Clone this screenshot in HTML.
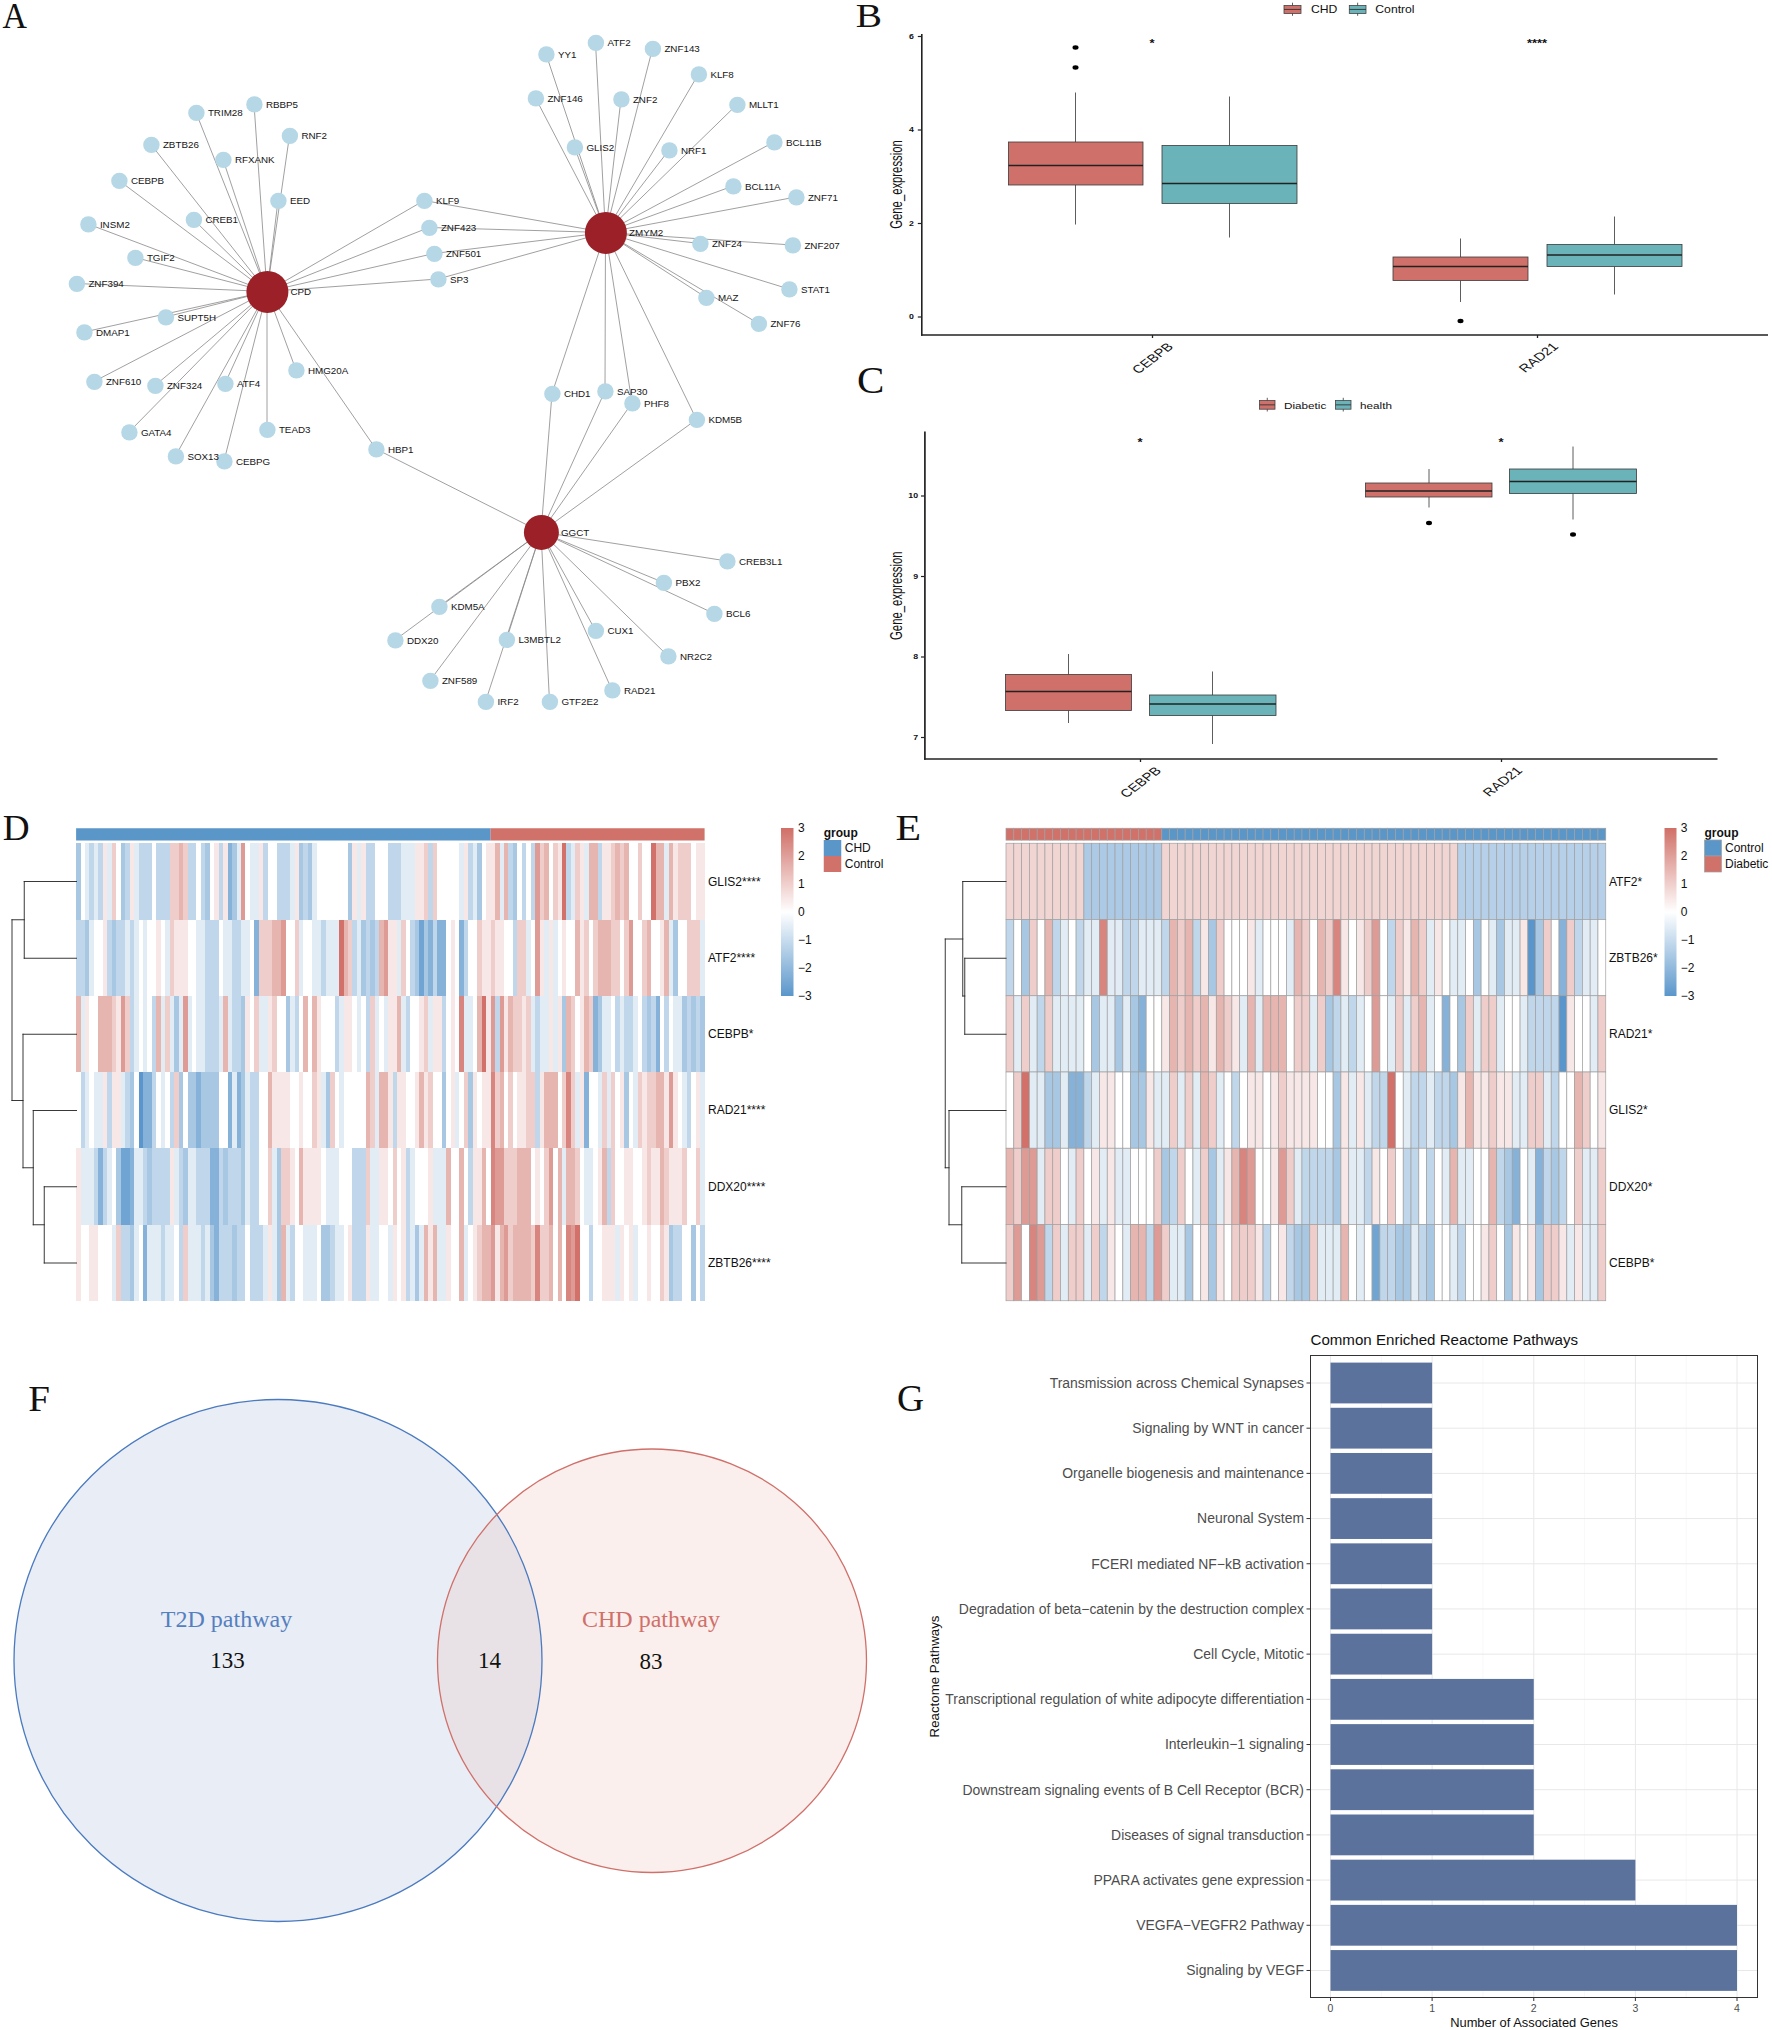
<!DOCTYPE html>
<html lang="en"><head><meta charset="utf-8"><title>Figure</title>
<style>
html,body{margin:0;padding:0;background:#fff}
body{width:1772px;height:2030px;overflow:hidden}
svg{display:block}
.s{font-family:"Liberation Sans",sans-serif}
.r{font-family:"Liberation Serif",serif}
</style></head><body>
<svg width="1772" height="2030" viewBox="0 0 1772 2030">
<rect width="1772" height="2030" fill="#ffffff"/>
<g id="pA">
<g stroke="#888" stroke-width="0.8">
<line x1="267" y1="291.5" x2="196" y2="112.5"/>
<line x1="267" y1="291.5" x2="254" y2="104"/>
<line x1="267" y1="291.5" x2="289.5" y2="135.5"/>
<line x1="267" y1="291.5" x2="151" y2="144.5"/>
<line x1="267" y1="291.5" x2="223" y2="159.5"/>
<line x1="267" y1="291.5" x2="119" y2="180.5"/>
<line x1="267" y1="291.5" x2="278" y2="200.5"/>
<line x1="267" y1="291.5" x2="193.5" y2="219.5"/>
<line x1="267" y1="291.5" x2="88" y2="224"/>
<line x1="267" y1="291.5" x2="135" y2="257.5"/>
<line x1="267" y1="291.5" x2="76.5" y2="283.5"/>
<line x1="267" y1="291.5" x2="165.5" y2="317"/>
<line x1="267" y1="291.5" x2="84" y2="332"/>
<line x1="267" y1="291.5" x2="94" y2="381.5"/>
<line x1="267" y1="291.5" x2="155" y2="385.5"/>
<line x1="267" y1="291.5" x2="225" y2="383.5"/>
<line x1="267" y1="291.5" x2="296" y2="370"/>
<line x1="267" y1="291.5" x2="129" y2="432"/>
<line x1="267" y1="291.5" x2="267" y2="429.5"/>
<line x1="267" y1="291.5" x2="175.5" y2="456"/>
<line x1="267" y1="291.5" x2="224" y2="461"/>
<line x1="267" y1="291.5" x2="376" y2="449"/>
<line x1="541" y1="532" x2="376" y2="449"/>
<line x1="267" y1="291.5" x2="424" y2="200.5"/>
<line x1="605.5" y1="232.5" x2="424" y2="200.5"/>
<line x1="267" y1="291.5" x2="429" y2="227.5"/>
<line x1="605.5" y1="232.5" x2="429" y2="227.5"/>
<line x1="267" y1="291.5" x2="434" y2="253.5"/>
<line x1="605.5" y1="232.5" x2="434" y2="253.5"/>
<line x1="267" y1="291.5" x2="438" y2="279"/>
<line x1="605.5" y1="232.5" x2="438" y2="279"/>
<line x1="605.5" y1="232.5" x2="546" y2="54"/>
<line x1="605.5" y1="232.5" x2="595.5" y2="42.5"/>
<line x1="605.5" y1="232.5" x2="652.5" y2="48.5"/>
<line x1="605.5" y1="232.5" x2="698.5" y2="74"/>
<line x1="605.5" y1="232.5" x2="535.5" y2="98"/>
<line x1="605.5" y1="232.5" x2="621" y2="99"/>
<line x1="605.5" y1="232.5" x2="737" y2="104.5"/>
<line x1="605.5" y1="232.5" x2="574.5" y2="147"/>
<line x1="605.5" y1="232.5" x2="669" y2="150"/>
<line x1="605.5" y1="232.5" x2="774" y2="142"/>
<line x1="605.5" y1="232.5" x2="733" y2="186"/>
<line x1="605.5" y1="232.5" x2="796" y2="197"/>
<line x1="605.5" y1="232.5" x2="700" y2="243.5"/>
<line x1="605.5" y1="232.5" x2="792.5" y2="245"/>
<line x1="605.5" y1="232.5" x2="789" y2="289"/>
<line x1="605.5" y1="232.5" x2="706" y2="297.5"/>
<line x1="605.5" y1="232.5" x2="758.5" y2="323.5"/>
<line x1="605.5" y1="232.5" x2="552" y2="393.5"/>
<line x1="541" y1="532" x2="552" y2="393.5"/>
<line x1="605.5" y1="232.5" x2="605" y2="391"/>
<line x1="541" y1="532" x2="605" y2="391"/>
<line x1="605.5" y1="232.5" x2="632" y2="403"/>
<line x1="541" y1="532" x2="632" y2="403"/>
<line x1="605.5" y1="232.5" x2="696.5" y2="419.5"/>
<line x1="541" y1="532" x2="696.5" y2="419.5"/>
<line x1="541" y1="532" x2="727" y2="561"/>
<line x1="541" y1="532" x2="663.5" y2="582.5"/>
<line x1="541" y1="532" x2="714" y2="613.5"/>
<line x1="541" y1="532" x2="439" y2="606.5"/>
<line x1="541" y1="532" x2="595.5" y2="630.5"/>
<line x1="541" y1="532" x2="395" y2="640"/>
<line x1="541" y1="532" x2="506.5" y2="639.5"/>
<line x1="541" y1="532" x2="668" y2="656"/>
<line x1="541" y1="532" x2="430" y2="680.5"/>
<line x1="541" y1="532" x2="485.5" y2="701.5"/>
<line x1="541" y1="532" x2="549.5" y2="701.5"/>
<line x1="541" y1="532" x2="612" y2="690"/>
</g>
<g fill="#b5d7e6">
<circle cx="196.4" cy="112.9" r="8.2"/>
<circle cx="254.4" cy="104.4" r="8.2"/>
<circle cx="289.9" cy="135.9" r="8.2"/>
<circle cx="151.4" cy="144.9" r="8.2"/>
<circle cx="223.4" cy="159.9" r="8.2"/>
<circle cx="119.4" cy="180.9" r="8.2"/>
<circle cx="278.4" cy="200.9" r="8.2"/>
<circle cx="193.9" cy="219.9" r="8.2"/>
<circle cx="88.4" cy="224.4" r="8.2"/>
<circle cx="135.4" cy="257.9" r="8.2"/>
<circle cx="76.9" cy="283.9" r="8.2"/>
<circle cx="165.9" cy="317.4" r="8.2"/>
<circle cx="84.4" cy="332.4" r="8.2"/>
<circle cx="94.4" cy="381.9" r="8.2"/>
<circle cx="155.4" cy="385.9" r="8.2"/>
<circle cx="225.4" cy="383.9" r="8.2"/>
<circle cx="296.4" cy="370.4" r="8.2"/>
<circle cx="129.4" cy="432.4" r="8.2"/>
<circle cx="267.4" cy="429.9" r="8.2"/>
<circle cx="175.9" cy="456.4" r="8.2"/>
<circle cx="224.4" cy="461.4" r="8.2"/>
<circle cx="376.4" cy="449.4" r="8.2"/>
<circle cx="424.4" cy="200.9" r="8.2"/>
<circle cx="429.4" cy="227.9" r="8.2"/>
<circle cx="434.4" cy="253.9" r="8.2"/>
<circle cx="438.4" cy="279.4" r="8.2"/>
<circle cx="546.4" cy="54.4" r="8.2"/>
<circle cx="595.9" cy="42.9" r="8.2"/>
<circle cx="652.9" cy="48.9" r="8.2"/>
<circle cx="698.9" cy="74.4" r="8.2"/>
<circle cx="535.9" cy="98.4" r="8.2"/>
<circle cx="621.4" cy="99.4" r="8.2"/>
<circle cx="737.4" cy="104.9" r="8.2"/>
<circle cx="574.9" cy="147.4" r="8.2"/>
<circle cx="669.4" cy="150.4" r="8.2"/>
<circle cx="774.4" cy="142.4" r="8.2"/>
<circle cx="733.4" cy="186.4" r="8.2"/>
<circle cx="796.4" cy="197.4" r="8.2"/>
<circle cx="700.4" cy="243.9" r="8.2"/>
<circle cx="792.9" cy="245.4" r="8.2"/>
<circle cx="789.4" cy="289.4" r="8.2"/>
<circle cx="706.4" cy="297.9" r="8.2"/>
<circle cx="758.9" cy="323.9" r="8.2"/>
<circle cx="552.4" cy="393.9" r="8.2"/>
<circle cx="605.4" cy="391.4" r="8.2"/>
<circle cx="632.4" cy="403.4" r="8.2"/>
<circle cx="696.9" cy="419.9" r="8.2"/>
<circle cx="727.4" cy="561.4" r="8.2"/>
<circle cx="663.9" cy="582.9" r="8.2"/>
<circle cx="714.4" cy="613.9" r="8.2"/>
<circle cx="439.4" cy="606.9" r="8.2"/>
<circle cx="595.9" cy="630.9" r="8.2"/>
<circle cx="395.4" cy="640.4" r="8.2"/>
<circle cx="506.9" cy="639.9" r="8.2"/>
<circle cx="668.4" cy="656.4" r="8.2"/>
<circle cx="430.4" cy="680.9" r="8.2"/>
<circle cx="485.9" cy="701.9" r="8.2"/>
<circle cx="549.9" cy="701.9" r="8.2"/>
<circle cx="612.4" cy="690.4" r="8.2"/>
</g>
<g fill="#9b2027">
<circle cx="267.4" cy="291.9" r="21"/>
<circle cx="605.9" cy="232.9" r="21"/>
<circle cx="541.4" cy="532.4" r="17.5"/>
</g>
<g class="s" font-size="9.8" fill="#151515">
<text x="207.9" y="116.3">TRIM28</text>
<text x="265.9" y="107.8">RBBP5</text>
<text x="301.4" y="139.3">RNF2</text>
<text x="162.9" y="148.3">ZBTB26</text>
<text x="234.9" y="163.3">RFXANK</text>
<text x="130.9" y="184.3">CEBPB</text>
<text x="289.9" y="204.3">EED</text>
<text x="205.4" y="223.3">CREB1</text>
<text x="99.9" y="227.8">INSM2</text>
<text x="146.9" y="261.3">TGIF2</text>
<text x="88.4" y="287.3">ZNF394</text>
<text x="177.4" y="320.8">SUPT5H</text>
<text x="95.9" y="335.8">DMAP1</text>
<text x="105.9" y="385.3">ZNF610</text>
<text x="166.9" y="389.3">ZNF324</text>
<text x="236.9" y="387.3">ATF4</text>
<text x="307.9" y="373.8">HMG20A</text>
<text x="140.9" y="435.8">GATA4</text>
<text x="278.9" y="433.3">TEAD3</text>
<text x="187.4" y="459.8">SOX13</text>
<text x="235.9" y="464.8">CEBPG</text>
<text x="387.9" y="452.8">HBP1</text>
<text x="435.9" y="204.3">KLF9</text>
<text x="440.9" y="231.3">ZNF423</text>
<text x="445.9" y="257.3">ZNF501</text>
<text x="449.9" y="282.8">SP3</text>
<text x="557.9" y="57.8">YY1</text>
<text x="607.4" y="46.3">ATF2</text>
<text x="664.4" y="52.3">ZNF143</text>
<text x="710.4" y="77.8">KLF8</text>
<text x="547.4" y="101.8">ZNF146</text>
<text x="632.9" y="102.8">ZNF2</text>
<text x="748.9" y="108.3">MLLT1</text>
<text x="586.4" y="150.8">GLIS2</text>
<text x="680.9" y="153.8">NRF1</text>
<text x="785.9" y="145.8">BCL11B</text>
<text x="744.9" y="189.8">BCL11A</text>
<text x="807.9" y="200.8">ZNF71</text>
<text x="711.9" y="247.3">ZNF24</text>
<text x="804.4" y="248.8">ZNF207</text>
<text x="800.9" y="292.8">STAT1</text>
<text x="717.9" y="301.3">MAZ</text>
<text x="770.4" y="327.3">ZNF76</text>
<text x="563.9" y="397.3">CHD1</text>
<text x="616.9" y="394.8">SAP30</text>
<text x="643.9" y="406.8">PHF8</text>
<text x="708.4" y="423.3">KDM5B</text>
<text x="738.9" y="564.8">CREB3L1</text>
<text x="675.4" y="586.3">PBX2</text>
<text x="725.9" y="617.3">BCL6</text>
<text x="450.9" y="610.3">KDM5A</text>
<text x="607.4" y="634.3">CUX1</text>
<text x="406.9" y="643.8">DDX20</text>
<text x="518.4" y="643.3">L3MBTL2</text>
<text x="679.9" y="659.8">NR2C2</text>
<text x="441.9" y="684.3">ZNF589</text>
<text x="497.4" y="705.3">IRF2</text>
<text x="561.4" y="705.3">GTF2E2</text>
<text x="623.9" y="693.8">RAD21</text>
<text x="290.5" y="295.1">CPD</text>
<text x="629" y="236.1">ZMYM2</text>
<text x="561" y="535.6">GGCT</text>
</g>
</g>
<g id="pB">
<line x1="921.8" y1="34" x2="921.8" y2="335.8" stroke="#222" stroke-width="1.6"/>
<line x1="921" y1="335" x2="1768" y2="335" stroke="#222" stroke-width="1.6"/>
<line x1="917.8" y1="36.5" x2="921" y2="36.5" stroke="#222" stroke-width="1.2"/>
<text class="s" font-size="6.5" text-anchor="end" font-weight="bold" fill="#111" transform="translate(914,38.8) scale(1.35,1)">6</text>
<line x1="917.8" y1="130" x2="921" y2="130" stroke="#222" stroke-width="1.2"/>
<text class="s" font-size="6.5" text-anchor="end" font-weight="bold" fill="#111" transform="translate(914,132.3) scale(1.35,1)">4</text>
<line x1="917.8" y1="223.5" x2="921" y2="223.5" stroke="#222" stroke-width="1.2"/>
<text class="s" font-size="6.5" text-anchor="end" font-weight="bold" fill="#111" transform="translate(914,225.8) scale(1.35,1)">2</text>
<line x1="917.8" y1="317" x2="921" y2="317" stroke="#222" stroke-width="1.2"/>
<text class="s" font-size="6.5" text-anchor="end" font-weight="bold" fill="#111" transform="translate(914,319.3) scale(1.35,1)">0</text>
<line x1="1152.5" y1="335" x2="1152.5" y2="338" stroke="#222" stroke-width="1.3"/>
<line x1="1537.5" y1="335" x2="1537.5" y2="338" stroke="#222" stroke-width="1.3"/>
<line x1="1075.5" y1="92.5" x2="1075.5" y2="142" stroke="#333" stroke-width="0.8"/>
<line x1="1075.5" y1="185" x2="1075.5" y2="224.5" stroke="#333" stroke-width="0.8"/>
<rect x="1008.5" y="142" width="134.5" height="43" fill="#d0706a" stroke="#3a3a3a" stroke-width="0.8"/>
<line x1="1008.5" y1="165.5" x2="1143" y2="165.5" stroke="#222" stroke-width="1.3"/>
<ellipse cx="1075.5" cy="47.5" rx="3" ry="2.2" fill="#000"/>
<ellipse cx="1075.5" cy="67.5" rx="3" ry="2.2" fill="#000"/>
<line x1="1229.5" y1="96.5" x2="1229.5" y2="145.5" stroke="#333" stroke-width="0.8"/>
<line x1="1229.5" y1="203.5" x2="1229.5" y2="237.5" stroke="#333" stroke-width="0.8"/>
<rect x="1162" y="145.5" width="135" height="58" fill="#6ab3b8" stroke="#3a3a3a" stroke-width="0.8"/>
<line x1="1162" y1="183.5" x2="1297" y2="183.5" stroke="#222" stroke-width="1.3"/>
<line x1="1460.5" y1="238.5" x2="1460.5" y2="257" stroke="#333" stroke-width="0.8"/>
<line x1="1460.5" y1="280.5" x2="1460.5" y2="302" stroke="#333" stroke-width="0.8"/>
<rect x="1393" y="257" width="135" height="23.5" fill="#d0706a" stroke="#3a3a3a" stroke-width="0.8"/>
<line x1="1393" y1="266.5" x2="1528" y2="266.5" stroke="#222" stroke-width="1.3"/>
<ellipse cx="1460.5" cy="321" rx="3" ry="2.2" fill="#000"/>
<line x1="1614.5" y1="216.5" x2="1614.5" y2="244.5" stroke="#333" stroke-width="0.8"/>
<line x1="1614.5" y1="266.5" x2="1614.5" y2="294.5" stroke="#333" stroke-width="0.8"/>
<rect x="1547" y="244.5" width="135" height="22" fill="#6ab3b8" stroke="#3a3a3a" stroke-width="0.8"/>
<line x1="1547" y1="255" x2="1682" y2="255" stroke="#222" stroke-width="1.3"/>
<text class="s" font-size="10" text-anchor="middle" font-weight="bold" fill="#111" transform="translate(1152,47.4) scale(1.3,1)">*</text>
<text class="s" font-size="10" text-anchor="middle" font-weight="bold" fill="#111" transform="translate(1537,47.4) scale(1.3,1)">****</text>
<text class="s" font-size="11.3" fill="#111" text-anchor="middle" transform="translate(902.4,184.5) rotate(-90) scale(1,1.42)">Gene_expression</text>
<text class="s" font-size="11.3" fill="#111" text-anchor="end" transform="translate(1174,347.4) scale(1.32,1) rotate(-45)">CEBPB</text>
<text class="s" font-size="11.3" fill="#111" text-anchor="end" transform="translate(1559,347.4) scale(1.32,1) rotate(-45)">RAD21</text>
<line x1="1292.5" y1="2.7" x2="1292.5" y2="15.8" stroke="#333" stroke-width="0.8"/>
<rect x="1284" y="5.4" width="17" height="8.1" fill="#d0706a" stroke="#444" stroke-width="0.8"/>
<line x1="1284" y1="9.45" x2="1301" y2="9.45" stroke="#333" stroke-width="0.9"/>
<text class="s" font-size="10" fill="#111" transform="translate(1311,13.1) scale(1.22,1.0)">CHD</text>
<line x1="1357.65" y1="2.7" x2="1357.65" y2="15.8" stroke="#333" stroke-width="0.8"/>
<rect x="1349.3" y="5.4" width="16.7" height="8.1" fill="#6ab3b8" stroke="#444" stroke-width="0.8"/>
<line x1="1349.3" y1="9.45" x2="1366" y2="9.45" stroke="#333" stroke-width="0.9"/>
<text class="s" font-size="10" fill="#111" transform="translate(1375.3,13.1) scale(1.22,1.0)">Control</text>
</g>
<g id="pC">
<line x1="924.9" y1="431.5" x2="924.9" y2="759.8" stroke="#222" stroke-width="1.7"/>
<line x1="924.1" y1="759" x2="1717.5" y2="759" stroke="#222" stroke-width="1.7"/>
<line x1="921" y1="496" x2="924.2" y2="496" stroke="#222" stroke-width="1.2"/>
<text class="s" font-size="6.5" text-anchor="end" font-weight="bold" fill="#111" transform="translate(918.1,498.3) scale(1.35,1)">10</text>
<line x1="921" y1="576.5" x2="924.2" y2="576.5" stroke="#222" stroke-width="1.2"/>
<text class="s" font-size="6.5" text-anchor="end" font-weight="bold" fill="#111" transform="translate(918.1,578.8) scale(1.35,1)">9</text>
<line x1="921" y1="657" x2="924.2" y2="657" stroke="#222" stroke-width="1.2"/>
<text class="s" font-size="6.5" text-anchor="end" font-weight="bold" fill="#111" transform="translate(918.1,659.3) scale(1.35,1)">8</text>
<line x1="921" y1="737.5" x2="924.2" y2="737.5" stroke="#222" stroke-width="1.2"/>
<text class="s" font-size="6.5" text-anchor="end" font-weight="bold" fill="#111" transform="translate(918.1,739.8) scale(1.35,1)">7</text>
<line x1="1140.5" y1="759" x2="1140.5" y2="762" stroke="#222" stroke-width="1.3"/>
<line x1="1501.5" y1="759" x2="1501.5" y2="762" stroke="#222" stroke-width="1.3"/>
<line x1="1068.5" y1="654" x2="1068.5" y2="674.5" stroke="#333" stroke-width="0.8"/>
<line x1="1068.5" y1="710.5" x2="1068.5" y2="723" stroke="#333" stroke-width="0.8"/>
<rect x="1005.5" y="674.5" width="126" height="36" fill="#d0706a" stroke="#3a3a3a" stroke-width="0.8"/>
<line x1="1005.5" y1="691.5" x2="1131.5" y2="691.5" stroke="#222" stroke-width="1.3"/>
<line x1="1212.5" y1="671.5" x2="1212.5" y2="695" stroke="#333" stroke-width="0.8"/>
<line x1="1212.5" y1="715.5" x2="1212.5" y2="744" stroke="#333" stroke-width="0.8"/>
<rect x="1149.5" y="695" width="126.5" height="20.5" fill="#6ab3b8" stroke="#3a3a3a" stroke-width="0.8"/>
<line x1="1149.5" y1="704" x2="1276" y2="704" stroke="#222" stroke-width="1.3"/>
<line x1="1429" y1="469" x2="1429" y2="483" stroke="#333" stroke-width="0.8"/>
<line x1="1429" y1="497" x2="1429" y2="507.5" stroke="#333" stroke-width="0.8"/>
<rect x="1365.5" y="483" width="126.5" height="14" fill="#d0706a" stroke="#3a3a3a" stroke-width="0.8"/>
<line x1="1365.5" y1="491" x2="1492" y2="491" stroke="#222" stroke-width="1.3"/>
<ellipse cx="1429" cy="523" rx="3" ry="2.2" fill="#000"/>
<line x1="1573" y1="446.5" x2="1573" y2="469" stroke="#333" stroke-width="0.8"/>
<line x1="1573" y1="493.5" x2="1573" y2="519.5" stroke="#333" stroke-width="0.8"/>
<rect x="1509.5" y="469" width="127" height="24.5" fill="#6ab3b8" stroke="#3a3a3a" stroke-width="0.8"/>
<line x1="1509.5" y1="481.5" x2="1636.5" y2="481.5" stroke="#222" stroke-width="1.3"/>
<ellipse cx="1573" cy="534.5" rx="3" ry="2.2" fill="#000"/>
<text class="s" font-size="10" text-anchor="middle" font-weight="bold" fill="#111" transform="translate(1140,445.9) scale(1.3,1)">*</text>
<text class="s" font-size="10" text-anchor="middle" font-weight="bold" fill="#111" transform="translate(1501,445.9) scale(1.3,1)">*</text>
<text class="s" font-size="11.3" fill="#111" text-anchor="middle" transform="translate(901.8,595.7) rotate(-90) scale(1,1.42)">Gene_expression</text>
<text class="s" font-size="11.3" fill="#111" text-anchor="end" transform="translate(1162,771.4) scale(1.32,1) rotate(-45)">CEBPB</text>
<text class="s" font-size="11.3" fill="#111" text-anchor="end" transform="translate(1523,771.4) scale(1.32,1) rotate(-45)">RAD21</text>
<line x1="1267.25" y1="397.8" x2="1267.25" y2="411.5" stroke="#333" stroke-width="0.8"/>
<rect x="1259.5" y="400.5" width="15.5" height="8.7" fill="#d0706a" stroke="#444" stroke-width="0.8"/>
<line x1="1259.5" y1="404.85" x2="1275" y2="404.85" stroke="#333" stroke-width="0.9"/>
<text class="s" font-size="9.7" fill="#111" transform="translate(1284,408.8) scale(1.21,1.0)">Diabetic</text>
<line x1="1343.25" y1="397.8" x2="1343.25" y2="411.5" stroke="#333" stroke-width="0.8"/>
<rect x="1335.5" y="400.5" width="15.5" height="8.7" fill="#6ab3b8" stroke="#444" stroke-width="0.8"/>
<line x1="1335.5" y1="404.85" x2="1351" y2="404.85" stroke="#333" stroke-width="0.9"/>
<text class="s" font-size="9.7" fill="#111" transform="translate(1360,408.8) scale(1.21,1.0)">health</text>
</g>
<g id="pD">
<rect x="76.1" y="828.25" width="414.5" height="12.25" fill="#5b96c9"/>
<rect x="490.6" y="828.25" width="214" height="12.25" fill="#d0716a"/>
<g shape-rendering="crispEdges">
<rect x="76.1" y="843.25" width="4.76" height="76.45" fill="#a7c7e3"/>
<rect x="80.56" y="843.25" width="4.76" height="76.45" fill="#ffffff"/>
<rect x="85.01" y="843.25" width="4.76" height="76.45" fill="#e1ecf5"/>
<rect x="89.47" y="843.25" width="4.76" height="76.45" fill="#c0d7eb"/>
<rect x="93.93" y="843.25" width="4.76" height="76.45" fill="#e1ecf5"/>
<rect x="98.39" y="843.25" width="4.76" height="76.45" fill="#c0d7eb"/>
<rect x="102.84" y="843.25" width="4.76" height="76.45" fill="#f7e7e6"/>
<rect x="107.3" y="843.25" width="4.76" height="76.45" fill="#e1ecf5"/>
<rect x="111.76" y="843.25" width="4.76" height="76.45" fill="#efcdca"/>
<rect x="116.22" y="843.25" width="4.76" height="76.45" fill="#ffffff"/>
<rect x="120.67" y="843.25" width="4.76" height="76.45" fill="#a7c7e3"/>
<rect x="125.13" y="843.25" width="4.76" height="76.45" fill="#c0d7eb"/>
<rect x="129.59" y="843.25" width="4.76" height="76.45" fill="#f7e7e6"/>
<rect x="134.05" y="843.25" width="4.76" height="76.45" fill="#e1ecf5"/>
<rect x="138.5" y="843.25" width="4.76" height="76.45" fill="#c0d7eb"/>
<rect x="142.96" y="843.25" width="4.76" height="76.45" fill="#c0d7eb"/>
<rect x="147.42" y="843.25" width="4.76" height="76.45" fill="#c0d7eb"/>
<rect x="151.88" y="843.25" width="4.76" height="76.45" fill="#ffffff"/>
<rect x="156.33" y="843.25" width="4.76" height="76.45" fill="#c0d7eb"/>
<rect x="160.79" y="843.25" width="4.76" height="76.45" fill="#c0d7eb"/>
<rect x="165.25" y="843.25" width="4.76" height="76.45" fill="#c0d7eb"/>
<rect x="169.71" y="843.25" width="4.76" height="76.45" fill="#efcdca"/>
<rect x="174.16" y="843.25" width="4.76" height="76.45" fill="#efcdca"/>
<rect x="178.62" y="843.25" width="4.76" height="76.45" fill="#e7b5b0"/>
<rect x="183.08" y="843.25" width="4.76" height="76.45" fill="#efcdca"/>
<rect x="187.54" y="843.25" width="4.76" height="76.45" fill="#c0d7eb"/>
<rect x="191.99" y="843.25" width="4.76" height="76.45" fill="#c0d7eb"/>
<rect x="196.45" y="843.25" width="4.76" height="76.45" fill="#ffffff"/>
<rect x="200.91" y="843.25" width="4.76" height="76.45" fill="#c0d7eb"/>
<rect x="205.37" y="843.25" width="4.76" height="76.45" fill="#a7c7e3"/>
<rect x="209.82" y="843.25" width="4.76" height="76.45" fill="#ffffff"/>
<rect x="214.28" y="843.25" width="4.76" height="76.45" fill="#f7e7e6"/>
<rect x="218.74" y="843.25" width="4.76" height="76.45" fill="#c0d7eb"/>
<rect x="223.2" y="843.25" width="4.76" height="76.45" fill="#f7e7e6"/>
<rect x="227.65" y="843.25" width="4.76" height="76.45" fill="#86b2d9"/>
<rect x="232.11" y="843.25" width="4.76" height="76.45" fill="#a7c7e3"/>
<rect x="236.57" y="843.25" width="4.76" height="76.45" fill="#e1ecf5"/>
<rect x="241.03" y="843.25" width="4.76" height="76.45" fill="#de9a95"/>
<rect x="245.48" y="843.25" width="4.76" height="76.45" fill="#ffffff"/>
<rect x="249.94" y="843.25" width="4.76" height="76.45" fill="#e1ecf5"/>
<rect x="254.4" y="843.25" width="4.76" height="76.45" fill="#e1ecf5"/>
<rect x="258.86" y="843.25" width="4.76" height="76.45" fill="#f7e7e6"/>
<rect x="263.31" y="843.25" width="4.76" height="76.45" fill="#c0d7eb"/>
<rect x="267.77" y="843.25" width="4.76" height="76.45" fill="#ffffff"/>
<rect x="272.23" y="843.25" width="4.76" height="76.45" fill="#ffffff"/>
<rect x="276.69" y="843.25" width="4.76" height="76.45" fill="#c0d7eb"/>
<rect x="281.14" y="843.25" width="4.76" height="76.45" fill="#c0d7eb"/>
<rect x="285.6" y="843.25" width="4.76" height="76.45" fill="#c0d7eb"/>
<rect x="290.06" y="843.25" width="4.76" height="76.45" fill="#e1ecf5"/>
<rect x="294.51" y="843.25" width="4.76" height="76.45" fill="#f7e7e6"/>
<rect x="298.97" y="843.25" width="4.76" height="76.45" fill="#a7c7e3"/>
<rect x="303.43" y="843.25" width="4.76" height="76.45" fill="#c0d7eb"/>
<rect x="307.89" y="843.25" width="4.76" height="76.45" fill="#a7c7e3"/>
<rect x="312.34" y="843.25" width="4.76" height="76.45" fill="#e1ecf5"/>
<rect x="316.8" y="843.25" width="4.76" height="76.45" fill="#ffffff"/>
<rect x="321.26" y="843.25" width="4.76" height="76.45" fill="#ffffff"/>
<rect x="325.72" y="843.25" width="4.76" height="76.45" fill="#ffffff"/>
<rect x="330.17" y="843.25" width="4.76" height="76.45" fill="#ffffff"/>
<rect x="334.63" y="843.25" width="4.76" height="76.45" fill="#ffffff"/>
<rect x="339.09" y="843.25" width="4.76" height="76.45" fill="#ffffff"/>
<rect x="343.55" y="843.25" width="4.76" height="76.45" fill="#ffffff"/>
<rect x="348" y="843.25" width="4.76" height="76.45" fill="#a7c7e3"/>
<rect x="352.46" y="843.25" width="4.76" height="76.45" fill="#f7e7e6"/>
<rect x="356.92" y="843.25" width="4.76" height="76.45" fill="#e1ecf5"/>
<rect x="361.38" y="843.25" width="4.76" height="76.45" fill="#f7e7e6"/>
<rect x="365.83" y="843.25" width="4.76" height="76.45" fill="#c0d7eb"/>
<rect x="370.29" y="843.25" width="4.76" height="76.45" fill="#c0d7eb"/>
<rect x="374.75" y="843.25" width="4.76" height="76.45" fill="#ffffff"/>
<rect x="379.21" y="843.25" width="4.76" height="76.45" fill="#ffffff"/>
<rect x="383.66" y="843.25" width="4.76" height="76.45" fill="#ffffff"/>
<rect x="388.12" y="843.25" width="4.76" height="76.45" fill="#c0d7eb"/>
<rect x="392.58" y="843.25" width="4.76" height="76.45" fill="#c0d7eb"/>
<rect x="397.04" y="843.25" width="4.76" height="76.45" fill="#c0d7eb"/>
<rect x="401.49" y="843.25" width="4.76" height="76.45" fill="#e1ecf5"/>
<rect x="405.95" y="843.25" width="4.76" height="76.45" fill="#e1ecf5"/>
<rect x="410.41" y="843.25" width="4.76" height="76.45" fill="#e1ecf5"/>
<rect x="414.87" y="843.25" width="4.76" height="76.45" fill="#f7e7e6"/>
<rect x="419.32" y="843.25" width="4.76" height="76.45" fill="#f7e7e6"/>
<rect x="423.78" y="843.25" width="4.76" height="76.45" fill="#efcdca"/>
<rect x="428.24" y="843.25" width="4.76" height="76.45" fill="#c0d7eb"/>
<rect x="432.7" y="843.25" width="4.76" height="76.45" fill="#efcdca"/>
<rect x="437.15" y="843.25" width="4.76" height="76.45" fill="#ffffff"/>
<rect x="441.61" y="843.25" width="4.76" height="76.45" fill="#ffffff"/>
<rect x="446.07" y="843.25" width="4.76" height="76.45" fill="#ffffff"/>
<rect x="450.53" y="843.25" width="4.76" height="76.45" fill="#ffffff"/>
<rect x="454.98" y="843.25" width="4.76" height="76.45" fill="#ffffff"/>
<rect x="459.44" y="843.25" width="4.76" height="76.45" fill="#e1ecf5"/>
<rect x="463.9" y="843.25" width="4.76" height="76.45" fill="#f7e7e6"/>
<rect x="468.36" y="843.25" width="4.76" height="76.45" fill="#c0d7eb"/>
<rect x="472.81" y="843.25" width="4.76" height="76.45" fill="#e1ecf5"/>
<rect x="477.27" y="843.25" width="4.76" height="76.45" fill="#a7c7e3"/>
<rect x="481.73" y="843.25" width="4.76" height="76.45" fill="#ffffff"/>
<rect x="486.19" y="843.25" width="4.76" height="76.45" fill="#f7e7e6"/>
<rect x="490.64" y="843.25" width="4.76" height="76.45" fill="#f7e7e6"/>
<rect x="495.1" y="843.25" width="4.76" height="76.45" fill="#e7b5b0"/>
<rect x="499.56" y="843.25" width="4.76" height="76.45" fill="#e1ecf5"/>
<rect x="504.01" y="843.25" width="4.76" height="76.45" fill="#e7b5b0"/>
<rect x="508.47" y="843.25" width="4.76" height="76.45" fill="#c0d7eb"/>
<rect x="512.93" y="843.25" width="4.76" height="76.45" fill="#a7c7e3"/>
<rect x="517.39" y="843.25" width="4.76" height="76.45" fill="#ffffff"/>
<rect x="521.84" y="843.25" width="4.76" height="76.45" fill="#c0d7eb"/>
<rect x="526.3" y="843.25" width="4.76" height="76.45" fill="#ffffff"/>
<rect x="530.76" y="843.25" width="4.76" height="76.45" fill="#c0d7eb"/>
<rect x="535.22" y="843.25" width="4.76" height="76.45" fill="#de9a95"/>
<rect x="539.67" y="843.25" width="4.76" height="76.45" fill="#efcdca"/>
<rect x="544.13" y="843.25" width="4.76" height="76.45" fill="#e7b5b0"/>
<rect x="548.59" y="843.25" width="4.76" height="76.45" fill="#ffffff"/>
<rect x="553.05" y="843.25" width="4.76" height="76.45" fill="#efcdca"/>
<rect x="557.5" y="843.25" width="4.76" height="76.45" fill="#f7e7e6"/>
<rect x="561.96" y="843.25" width="4.76" height="76.45" fill="#d1716a"/>
<rect x="566.42" y="843.25" width="4.76" height="76.45" fill="#c0d7eb"/>
<rect x="570.88" y="843.25" width="4.76" height="76.45" fill="#e1ecf5"/>
<rect x="575.33" y="843.25" width="4.76" height="76.45" fill="#efcdca"/>
<rect x="579.79" y="843.25" width="4.76" height="76.45" fill="#f7e7e6"/>
<rect x="584.25" y="843.25" width="4.76" height="76.45" fill="#e1ecf5"/>
<rect x="588.71" y="843.25" width="4.76" height="76.45" fill="#e7b5b0"/>
<rect x="593.16" y="843.25" width="4.76" height="76.45" fill="#e7b5b0"/>
<rect x="597.62" y="843.25" width="4.76" height="76.45" fill="#c0d7eb"/>
<rect x="602.08" y="843.25" width="4.76" height="76.45" fill="#f7e7e6"/>
<rect x="606.54" y="843.25" width="4.76" height="76.45" fill="#f7e7e6"/>
<rect x="610.99" y="843.25" width="4.76" height="76.45" fill="#efcdca"/>
<rect x="615.45" y="843.25" width="4.76" height="76.45" fill="#e7b5b0"/>
<rect x="619.91" y="843.25" width="4.76" height="76.45" fill="#efcdca"/>
<rect x="624.37" y="843.25" width="4.76" height="76.45" fill="#e7b5b0"/>
<rect x="628.82" y="843.25" width="4.76" height="76.45" fill="#ffffff"/>
<rect x="633.28" y="843.25" width="4.76" height="76.45" fill="#ffffff"/>
<rect x="637.74" y="843.25" width="4.76" height="76.45" fill="#efcdca"/>
<rect x="642.2" y="843.25" width="4.76" height="76.45" fill="#ffffff"/>
<rect x="646.65" y="843.25" width="4.76" height="76.45" fill="#ffffff"/>
<rect x="651.11" y="843.25" width="4.76" height="76.45" fill="#d1716a"/>
<rect x="655.57" y="843.25" width="4.76" height="76.45" fill="#e7b5b0"/>
<rect x="660.03" y="843.25" width="4.76" height="76.45" fill="#e7b5b0"/>
<rect x="664.48" y="843.25" width="4.76" height="76.45" fill="#e1ecf5"/>
<rect x="668.94" y="843.25" width="4.76" height="76.45" fill="#e7b5b0"/>
<rect x="673.4" y="843.25" width="4.76" height="76.45" fill="#f7e7e6"/>
<rect x="677.86" y="843.25" width="4.76" height="76.45" fill="#efcdca"/>
<rect x="682.31" y="843.25" width="4.76" height="76.45" fill="#efcdca"/>
<rect x="686.77" y="843.25" width="4.76" height="76.45" fill="#efcdca"/>
<rect x="691.23" y="843.25" width="4.76" height="76.45" fill="#ffffff"/>
<rect x="695.69" y="843.25" width="4.76" height="76.45" fill="#f7e7e6"/>
<rect x="700.14" y="843.25" width="4.76" height="76.45" fill="#f7e7e6"/>
<rect x="76.1" y="919.5" width="4.76" height="76.45" fill="#c0d7eb"/>
<rect x="80.56" y="919.5" width="4.76" height="76.45" fill="#c0d7eb"/>
<rect x="85.01" y="919.5" width="4.76" height="76.45" fill="#a7c7e3"/>
<rect x="89.47" y="919.5" width="4.76" height="76.45" fill="#e1ecf5"/>
<rect x="93.93" y="919.5" width="4.76" height="76.45" fill="#ffffff"/>
<rect x="98.39" y="919.5" width="4.76" height="76.45" fill="#ffffff"/>
<rect x="102.84" y="919.5" width="4.76" height="76.45" fill="#f7e7e6"/>
<rect x="107.3" y="919.5" width="4.76" height="76.45" fill="#c0d7eb"/>
<rect x="111.76" y="919.5" width="4.76" height="76.45" fill="#a7c7e3"/>
<rect x="116.22" y="919.5" width="4.76" height="76.45" fill="#c0d7eb"/>
<rect x="120.67" y="919.5" width="4.76" height="76.45" fill="#c0d7eb"/>
<rect x="125.13" y="919.5" width="4.76" height="76.45" fill="#e1ecf5"/>
<rect x="129.59" y="919.5" width="4.76" height="76.45" fill="#c0d7eb"/>
<rect x="134.05" y="919.5" width="4.76" height="76.45" fill="#e1ecf5"/>
<rect x="138.5" y="919.5" width="4.76" height="76.45" fill="#ffffff"/>
<rect x="142.96" y="919.5" width="4.76" height="76.45" fill="#e1ecf5"/>
<rect x="147.42" y="919.5" width="4.76" height="76.45" fill="#ffffff"/>
<rect x="151.88" y="919.5" width="4.76" height="76.45" fill="#ffffff"/>
<rect x="156.33" y="919.5" width="4.76" height="76.45" fill="#f7e7e6"/>
<rect x="160.79" y="919.5" width="4.76" height="76.45" fill="#ffffff"/>
<rect x="165.25" y="919.5" width="4.76" height="76.45" fill="#e1ecf5"/>
<rect x="169.71" y="919.5" width="4.76" height="76.45" fill="#efcdca"/>
<rect x="174.16" y="919.5" width="4.76" height="76.45" fill="#f7e7e6"/>
<rect x="178.62" y="919.5" width="4.76" height="76.45" fill="#f7e7e6"/>
<rect x="183.08" y="919.5" width="4.76" height="76.45" fill="#f7e7e6"/>
<rect x="187.54" y="919.5" width="4.76" height="76.45" fill="#ffffff"/>
<rect x="191.99" y="919.5" width="4.76" height="76.45" fill="#ffffff"/>
<rect x="196.45" y="919.5" width="4.76" height="76.45" fill="#e1ecf5"/>
<rect x="200.91" y="919.5" width="4.76" height="76.45" fill="#e1ecf5"/>
<rect x="205.37" y="919.5" width="4.76" height="76.45" fill="#c0d7eb"/>
<rect x="209.82" y="919.5" width="4.76" height="76.45" fill="#c0d7eb"/>
<rect x="214.28" y="919.5" width="4.76" height="76.45" fill="#c0d7eb"/>
<rect x="218.74" y="919.5" width="4.76" height="76.45" fill="#ffffff"/>
<rect x="223.2" y="919.5" width="4.76" height="76.45" fill="#e1ecf5"/>
<rect x="227.65" y="919.5" width="4.76" height="76.45" fill="#e1ecf5"/>
<rect x="232.11" y="919.5" width="4.76" height="76.45" fill="#c0d7eb"/>
<rect x="236.57" y="919.5" width="4.76" height="76.45" fill="#c0d7eb"/>
<rect x="241.03" y="919.5" width="4.76" height="76.45" fill="#e1ecf5"/>
<rect x="245.48" y="919.5" width="4.76" height="76.45" fill="#e1ecf5"/>
<rect x="249.94" y="919.5" width="4.76" height="76.45" fill="#ffffff"/>
<rect x="254.4" y="919.5" width="4.76" height="76.45" fill="#86b2d9"/>
<rect x="258.86" y="919.5" width="4.76" height="76.45" fill="#efcdca"/>
<rect x="263.31" y="919.5" width="4.76" height="76.45" fill="#efcdca"/>
<rect x="267.77" y="919.5" width="4.76" height="76.45" fill="#efcdca"/>
<rect x="272.23" y="919.5" width="4.76" height="76.45" fill="#e7b5b0"/>
<rect x="276.69" y="919.5" width="4.76" height="76.45" fill="#e7b5b0"/>
<rect x="281.14" y="919.5" width="4.76" height="76.45" fill="#de9a95"/>
<rect x="285.6" y="919.5" width="4.76" height="76.45" fill="#ffffff"/>
<rect x="290.06" y="919.5" width="4.76" height="76.45" fill="#ffffff"/>
<rect x="294.51" y="919.5" width="4.76" height="76.45" fill="#efcdca"/>
<rect x="298.97" y="919.5" width="4.76" height="76.45" fill="#e1ecf5"/>
<rect x="303.43" y="919.5" width="4.76" height="76.45" fill="#ffffff"/>
<rect x="307.89" y="919.5" width="4.76" height="76.45" fill="#ffffff"/>
<rect x="312.34" y="919.5" width="4.76" height="76.45" fill="#e1ecf5"/>
<rect x="316.8" y="919.5" width="4.76" height="76.45" fill="#e1ecf5"/>
<rect x="321.26" y="919.5" width="4.76" height="76.45" fill="#c0d7eb"/>
<rect x="325.72" y="919.5" width="4.76" height="76.45" fill="#e1ecf5"/>
<rect x="330.17" y="919.5" width="4.76" height="76.45" fill="#e1ecf5"/>
<rect x="334.63" y="919.5" width="4.76" height="76.45" fill="#e1ecf5"/>
<rect x="339.09" y="919.5" width="4.76" height="76.45" fill="#d1716a"/>
<rect x="343.55" y="919.5" width="4.76" height="76.45" fill="#e7b5b0"/>
<rect x="348" y="919.5" width="4.76" height="76.45" fill="#efcdca"/>
<rect x="352.46" y="919.5" width="4.76" height="76.45" fill="#c0d7eb"/>
<rect x="356.92" y="919.5" width="4.76" height="76.45" fill="#e1ecf5"/>
<rect x="361.38" y="919.5" width="4.76" height="76.45" fill="#a7c7e3"/>
<rect x="365.83" y="919.5" width="4.76" height="76.45" fill="#c0d7eb"/>
<rect x="370.29" y="919.5" width="4.76" height="76.45" fill="#a7c7e3"/>
<rect x="374.75" y="919.5" width="4.76" height="76.45" fill="#c0d7eb"/>
<rect x="379.21" y="919.5" width="4.76" height="76.45" fill="#e7b5b0"/>
<rect x="383.66" y="919.5" width="4.76" height="76.45" fill="#de9a95"/>
<rect x="388.12" y="919.5" width="4.76" height="76.45" fill="#f7e7e6"/>
<rect x="392.58" y="919.5" width="4.76" height="76.45" fill="#f7e7e6"/>
<rect x="397.04" y="919.5" width="4.76" height="76.45" fill="#e1ecf5"/>
<rect x="401.49" y="919.5" width="4.76" height="76.45" fill="#efcdca"/>
<rect x="405.95" y="919.5" width="4.76" height="76.45" fill="#ffffff"/>
<rect x="410.41" y="919.5" width="4.76" height="76.45" fill="#c0d7eb"/>
<rect x="414.87" y="919.5" width="4.76" height="76.45" fill="#a7c7e3"/>
<rect x="419.32" y="919.5" width="4.76" height="76.45" fill="#70a4d2"/>
<rect x="423.78" y="919.5" width="4.76" height="76.45" fill="#a7c7e3"/>
<rect x="428.24" y="919.5" width="4.76" height="76.45" fill="#86b2d9"/>
<rect x="432.7" y="919.5" width="4.76" height="76.45" fill="#c0d7eb"/>
<rect x="437.15" y="919.5" width="4.76" height="76.45" fill="#86b2d9"/>
<rect x="441.61" y="919.5" width="4.76" height="76.45" fill="#86b2d9"/>
<rect x="446.07" y="919.5" width="4.76" height="76.45" fill="#ffffff"/>
<rect x="450.53" y="919.5" width="4.76" height="76.45" fill="#f7e7e6"/>
<rect x="454.98" y="919.5" width="4.76" height="76.45" fill="#ffffff"/>
<rect x="459.44" y="919.5" width="4.76" height="76.45" fill="#86b2d9"/>
<rect x="463.9" y="919.5" width="4.76" height="76.45" fill="#c0d7eb"/>
<rect x="468.36" y="919.5" width="4.76" height="76.45" fill="#ffffff"/>
<rect x="472.81" y="919.5" width="4.76" height="76.45" fill="#ffffff"/>
<rect x="477.27" y="919.5" width="4.76" height="76.45" fill="#efcdca"/>
<rect x="481.73" y="919.5" width="4.76" height="76.45" fill="#f7e7e6"/>
<rect x="486.19" y="919.5" width="4.76" height="76.45" fill="#f7e7e6"/>
<rect x="490.64" y="919.5" width="4.76" height="76.45" fill="#efcdca"/>
<rect x="495.1" y="919.5" width="4.76" height="76.45" fill="#f7e7e6"/>
<rect x="499.56" y="919.5" width="4.76" height="76.45" fill="#f7e7e6"/>
<rect x="504.01" y="919.5" width="4.76" height="76.45" fill="#ffffff"/>
<rect x="508.47" y="919.5" width="4.76" height="76.45" fill="#ffffff"/>
<rect x="512.93" y="919.5" width="4.76" height="76.45" fill="#c0d7eb"/>
<rect x="517.39" y="919.5" width="4.76" height="76.45" fill="#efcdca"/>
<rect x="521.84" y="919.5" width="4.76" height="76.45" fill="#efcdca"/>
<rect x="526.3" y="919.5" width="4.76" height="76.45" fill="#e1ecf5"/>
<rect x="530.76" y="919.5" width="4.76" height="76.45" fill="#ffffff"/>
<rect x="535.22" y="919.5" width="4.76" height="76.45" fill="#de9a95"/>
<rect x="539.67" y="919.5" width="4.76" height="76.45" fill="#f7e7e6"/>
<rect x="544.13" y="919.5" width="4.76" height="76.45" fill="#e1ecf5"/>
<rect x="548.59" y="919.5" width="4.76" height="76.45" fill="#f7e7e6"/>
<rect x="553.05" y="919.5" width="4.76" height="76.45" fill="#e1ecf5"/>
<rect x="557.5" y="919.5" width="4.76" height="76.45" fill="#ffffff"/>
<rect x="561.96" y="919.5" width="4.76" height="76.45" fill="#f7e7e6"/>
<rect x="566.42" y="919.5" width="4.76" height="76.45" fill="#ffffff"/>
<rect x="570.88" y="919.5" width="4.76" height="76.45" fill="#ffffff"/>
<rect x="575.33" y="919.5" width="4.76" height="76.45" fill="#e7b5b0"/>
<rect x="579.79" y="919.5" width="4.76" height="76.45" fill="#f7e7e6"/>
<rect x="584.25" y="919.5" width="4.76" height="76.45" fill="#efcdca"/>
<rect x="588.71" y="919.5" width="4.76" height="76.45" fill="#ffffff"/>
<rect x="593.16" y="919.5" width="4.76" height="76.45" fill="#efcdca"/>
<rect x="597.62" y="919.5" width="4.76" height="76.45" fill="#e7b5b0"/>
<rect x="602.08" y="919.5" width="4.76" height="76.45" fill="#e7b5b0"/>
<rect x="606.54" y="919.5" width="4.76" height="76.45" fill="#e7b5b0"/>
<rect x="610.99" y="919.5" width="4.76" height="76.45" fill="#efcdca"/>
<rect x="615.45" y="919.5" width="4.76" height="76.45" fill="#efcdca"/>
<rect x="619.91" y="919.5" width="4.76" height="76.45" fill="#ffffff"/>
<rect x="624.37" y="919.5" width="4.76" height="76.45" fill="#efcdca"/>
<rect x="628.82" y="919.5" width="4.76" height="76.45" fill="#de9a95"/>
<rect x="633.28" y="919.5" width="4.76" height="76.45" fill="#ffffff"/>
<rect x="637.74" y="919.5" width="4.76" height="76.45" fill="#ffffff"/>
<rect x="642.2" y="919.5" width="4.76" height="76.45" fill="#efcdca"/>
<rect x="646.65" y="919.5" width="4.76" height="76.45" fill="#e7b5b0"/>
<rect x="651.11" y="919.5" width="4.76" height="76.45" fill="#ffffff"/>
<rect x="655.57" y="919.5" width="4.76" height="76.45" fill="#ffffff"/>
<rect x="660.03" y="919.5" width="4.76" height="76.45" fill="#f7e7e6"/>
<rect x="664.48" y="919.5" width="4.76" height="76.45" fill="#e7b5b0"/>
<rect x="668.94" y="919.5" width="4.76" height="76.45" fill="#e1ecf5"/>
<rect x="673.4" y="919.5" width="4.76" height="76.45" fill="#a7c7e3"/>
<rect x="677.86" y="919.5" width="4.76" height="76.45" fill="#ffffff"/>
<rect x="682.31" y="919.5" width="4.76" height="76.45" fill="#ffffff"/>
<rect x="686.77" y="919.5" width="4.76" height="76.45" fill="#efcdca"/>
<rect x="691.23" y="919.5" width="4.76" height="76.45" fill="#efcdca"/>
<rect x="695.69" y="919.5" width="4.76" height="76.45" fill="#efcdca"/>
<rect x="700.14" y="919.5" width="4.76" height="76.45" fill="#e1ecf5"/>
<rect x="76.1" y="995.75" width="4.76" height="76.45" fill="#e7b5b0"/>
<rect x="80.56" y="995.75" width="4.76" height="76.45" fill="#e1ecf5"/>
<rect x="85.01" y="995.75" width="4.76" height="76.45" fill="#f7e7e6"/>
<rect x="89.47" y="995.75" width="4.76" height="76.45" fill="#ffffff"/>
<rect x="93.93" y="995.75" width="4.76" height="76.45" fill="#ffffff"/>
<rect x="98.39" y="995.75" width="4.76" height="76.45" fill="#e7b5b0"/>
<rect x="102.84" y="995.75" width="4.76" height="76.45" fill="#e7b5b0"/>
<rect x="107.3" y="995.75" width="4.76" height="76.45" fill="#e7b5b0"/>
<rect x="111.76" y="995.75" width="4.76" height="76.45" fill="#efcdca"/>
<rect x="116.22" y="995.75" width="4.76" height="76.45" fill="#f7e7e6"/>
<rect x="120.67" y="995.75" width="4.76" height="76.45" fill="#de9a95"/>
<rect x="125.13" y="995.75" width="4.76" height="76.45" fill="#efcdca"/>
<rect x="129.59" y="995.75" width="4.76" height="76.45" fill="#c0d7eb"/>
<rect x="134.05" y="995.75" width="4.76" height="76.45" fill="#e1ecf5"/>
<rect x="138.5" y="995.75" width="4.76" height="76.45" fill="#ffffff"/>
<rect x="142.96" y="995.75" width="4.76" height="76.45" fill="#e1ecf5"/>
<rect x="147.42" y="995.75" width="4.76" height="76.45" fill="#ffffff"/>
<rect x="151.88" y="995.75" width="4.76" height="76.45" fill="#c0d7eb"/>
<rect x="156.33" y="995.75" width="4.76" height="76.45" fill="#e7b5b0"/>
<rect x="160.79" y="995.75" width="4.76" height="76.45" fill="#e1ecf5"/>
<rect x="165.25" y="995.75" width="4.76" height="76.45" fill="#efcdca"/>
<rect x="169.71" y="995.75" width="4.76" height="76.45" fill="#e1ecf5"/>
<rect x="174.16" y="995.75" width="4.76" height="76.45" fill="#a7c7e3"/>
<rect x="178.62" y="995.75" width="4.76" height="76.45" fill="#e1ecf5"/>
<rect x="183.08" y="995.75" width="4.76" height="76.45" fill="#de9a95"/>
<rect x="187.54" y="995.75" width="4.76" height="76.45" fill="#e1ecf5"/>
<rect x="191.99" y="995.75" width="4.76" height="76.45" fill="#ffffff"/>
<rect x="196.45" y="995.75" width="4.76" height="76.45" fill="#e1ecf5"/>
<rect x="200.91" y="995.75" width="4.76" height="76.45" fill="#e1ecf5"/>
<rect x="205.37" y="995.75" width="4.76" height="76.45" fill="#c0d7eb"/>
<rect x="209.82" y="995.75" width="4.76" height="76.45" fill="#c0d7eb"/>
<rect x="214.28" y="995.75" width="4.76" height="76.45" fill="#c0d7eb"/>
<rect x="218.74" y="995.75" width="4.76" height="76.45" fill="#e1ecf5"/>
<rect x="223.2" y="995.75" width="4.76" height="76.45" fill="#e7b5b0"/>
<rect x="227.65" y="995.75" width="4.76" height="76.45" fill="#e1ecf5"/>
<rect x="232.11" y="995.75" width="4.76" height="76.45" fill="#c0d7eb"/>
<rect x="236.57" y="995.75" width="4.76" height="76.45" fill="#c0d7eb"/>
<rect x="241.03" y="995.75" width="4.76" height="76.45" fill="#a7c7e3"/>
<rect x="245.48" y="995.75" width="4.76" height="76.45" fill="#f7e7e6"/>
<rect x="249.94" y="995.75" width="4.76" height="76.45" fill="#ffffff"/>
<rect x="254.4" y="995.75" width="4.76" height="76.45" fill="#efcdca"/>
<rect x="258.86" y="995.75" width="4.76" height="76.45" fill="#e1ecf5"/>
<rect x="263.31" y="995.75" width="4.76" height="76.45" fill="#e1ecf5"/>
<rect x="267.77" y="995.75" width="4.76" height="76.45" fill="#f7e7e6"/>
<rect x="272.23" y="995.75" width="4.76" height="76.45" fill="#efcdca"/>
<rect x="276.69" y="995.75" width="4.76" height="76.45" fill="#ffffff"/>
<rect x="281.14" y="995.75" width="4.76" height="76.45" fill="#ffffff"/>
<rect x="285.6" y="995.75" width="4.76" height="76.45" fill="#a7c7e3"/>
<rect x="290.06" y="995.75" width="4.76" height="76.45" fill="#e1ecf5"/>
<rect x="294.51" y="995.75" width="4.76" height="76.45" fill="#c0d7eb"/>
<rect x="298.97" y="995.75" width="4.76" height="76.45" fill="#ffffff"/>
<rect x="303.43" y="995.75" width="4.76" height="76.45" fill="#e7b5b0"/>
<rect x="307.89" y="995.75" width="4.76" height="76.45" fill="#ffffff"/>
<rect x="312.34" y="995.75" width="4.76" height="76.45" fill="#e7b5b0"/>
<rect x="316.8" y="995.75" width="4.76" height="76.45" fill="#f7e7e6"/>
<rect x="321.26" y="995.75" width="4.76" height="76.45" fill="#ffffff"/>
<rect x="325.72" y="995.75" width="4.76" height="76.45" fill="#ffffff"/>
<rect x="330.17" y="995.75" width="4.76" height="76.45" fill="#ffffff"/>
<rect x="334.63" y="995.75" width="4.76" height="76.45" fill="#c0d7eb"/>
<rect x="339.09" y="995.75" width="4.76" height="76.45" fill="#e1ecf5"/>
<rect x="343.55" y="995.75" width="4.76" height="76.45" fill="#f7e7e6"/>
<rect x="348" y="995.75" width="4.76" height="76.45" fill="#f7e7e6"/>
<rect x="352.46" y="995.75" width="4.76" height="76.45" fill="#ffffff"/>
<rect x="356.92" y="995.75" width="4.76" height="76.45" fill="#e1ecf5"/>
<rect x="361.38" y="995.75" width="4.76" height="76.45" fill="#ffffff"/>
<rect x="365.83" y="995.75" width="4.76" height="76.45" fill="#c0d7eb"/>
<rect x="370.29" y="995.75" width="4.76" height="76.45" fill="#efcdca"/>
<rect x="374.75" y="995.75" width="4.76" height="76.45" fill="#e1ecf5"/>
<rect x="379.21" y="995.75" width="4.76" height="76.45" fill="#ffffff"/>
<rect x="383.66" y="995.75" width="4.76" height="76.45" fill="#e1ecf5"/>
<rect x="388.12" y="995.75" width="4.76" height="76.45" fill="#f7e7e6"/>
<rect x="392.58" y="995.75" width="4.76" height="76.45" fill="#f7e7e6"/>
<rect x="397.04" y="995.75" width="4.76" height="76.45" fill="#e7b5b0"/>
<rect x="401.49" y="995.75" width="4.76" height="76.45" fill="#e1ecf5"/>
<rect x="405.95" y="995.75" width="4.76" height="76.45" fill="#c0d7eb"/>
<rect x="410.41" y="995.75" width="4.76" height="76.45" fill="#ffffff"/>
<rect x="414.87" y="995.75" width="4.76" height="76.45" fill="#ffffff"/>
<rect x="419.32" y="995.75" width="4.76" height="76.45" fill="#f7e7e6"/>
<rect x="423.78" y="995.75" width="4.76" height="76.45" fill="#efcdca"/>
<rect x="428.24" y="995.75" width="4.76" height="76.45" fill="#e1ecf5"/>
<rect x="432.7" y="995.75" width="4.76" height="76.45" fill="#f7e7e6"/>
<rect x="437.15" y="995.75" width="4.76" height="76.45" fill="#f7e7e6"/>
<rect x="441.61" y="995.75" width="4.76" height="76.45" fill="#c0d7eb"/>
<rect x="446.07" y="995.75" width="4.76" height="76.45" fill="#ffffff"/>
<rect x="450.53" y="995.75" width="4.76" height="76.45" fill="#f7e7e6"/>
<rect x="454.98" y="995.75" width="4.76" height="76.45" fill="#ffffff"/>
<rect x="459.44" y="995.75" width="4.76" height="76.45" fill="#d7857e"/>
<rect x="463.9" y="995.75" width="4.76" height="76.45" fill="#e1ecf5"/>
<rect x="468.36" y="995.75" width="4.76" height="76.45" fill="#e1ecf5"/>
<rect x="472.81" y="995.75" width="4.76" height="76.45" fill="#ffffff"/>
<rect x="477.27" y="995.75" width="4.76" height="76.45" fill="#e7b5b0"/>
<rect x="481.73" y="995.75" width="4.76" height="76.45" fill="#d1716a"/>
<rect x="486.19" y="995.75" width="4.76" height="76.45" fill="#f7e7e6"/>
<rect x="490.64" y="995.75" width="4.76" height="76.45" fill="#de9a95"/>
<rect x="495.1" y="995.75" width="4.76" height="76.45" fill="#c0d7eb"/>
<rect x="499.56" y="995.75" width="4.76" height="76.45" fill="#de9a95"/>
<rect x="504.01" y="995.75" width="4.76" height="76.45" fill="#f7e7e6"/>
<rect x="508.47" y="995.75" width="4.76" height="76.45" fill="#e7b5b0"/>
<rect x="512.93" y="995.75" width="4.76" height="76.45" fill="#efcdca"/>
<rect x="517.39" y="995.75" width="4.76" height="76.45" fill="#efcdca"/>
<rect x="521.84" y="995.75" width="4.76" height="76.45" fill="#f7e7e6"/>
<rect x="526.3" y="995.75" width="4.76" height="76.45" fill="#efcdca"/>
<rect x="530.76" y="995.75" width="4.76" height="76.45" fill="#e1ecf5"/>
<rect x="535.22" y="995.75" width="4.76" height="76.45" fill="#c0d7eb"/>
<rect x="539.67" y="995.75" width="4.76" height="76.45" fill="#e1ecf5"/>
<rect x="544.13" y="995.75" width="4.76" height="76.45" fill="#e1ecf5"/>
<rect x="548.59" y="995.75" width="4.76" height="76.45" fill="#f7e7e6"/>
<rect x="553.05" y="995.75" width="4.76" height="76.45" fill="#e1ecf5"/>
<rect x="557.5" y="995.75" width="4.76" height="76.45" fill="#f7e7e6"/>
<rect x="561.96" y="995.75" width="4.76" height="76.45" fill="#a7c7e3"/>
<rect x="566.42" y="995.75" width="4.76" height="76.45" fill="#e7b5b0"/>
<rect x="570.88" y="995.75" width="4.76" height="76.45" fill="#efcdca"/>
<rect x="575.33" y="995.75" width="4.76" height="76.45" fill="#ffffff"/>
<rect x="579.79" y="995.75" width="4.76" height="76.45" fill="#f7e7e6"/>
<rect x="584.25" y="995.75" width="4.76" height="76.45" fill="#e7b5b0"/>
<rect x="588.71" y="995.75" width="4.76" height="76.45" fill="#efcdca"/>
<rect x="593.16" y="995.75" width="4.76" height="76.45" fill="#86b2d9"/>
<rect x="597.62" y="995.75" width="4.76" height="76.45" fill="#a7c7e3"/>
<rect x="602.08" y="995.75" width="4.76" height="76.45" fill="#e1ecf5"/>
<rect x="606.54" y="995.75" width="4.76" height="76.45" fill="#e1ecf5"/>
<rect x="610.99" y="995.75" width="4.76" height="76.45" fill="#ffffff"/>
<rect x="615.45" y="995.75" width="4.76" height="76.45" fill="#c0d7eb"/>
<rect x="619.91" y="995.75" width="4.76" height="76.45" fill="#e1ecf5"/>
<rect x="624.37" y="995.75" width="4.76" height="76.45" fill="#c0d7eb"/>
<rect x="628.82" y="995.75" width="4.76" height="76.45" fill="#c0d7eb"/>
<rect x="633.28" y="995.75" width="4.76" height="76.45" fill="#e1ecf5"/>
<rect x="637.74" y="995.75" width="4.76" height="76.45" fill="#ffffff"/>
<rect x="642.2" y="995.75" width="4.76" height="76.45" fill="#c0d7eb"/>
<rect x="646.65" y="995.75" width="4.76" height="76.45" fill="#a7c7e3"/>
<rect x="651.11" y="995.75" width="4.76" height="76.45" fill="#c0d7eb"/>
<rect x="655.57" y="995.75" width="4.76" height="76.45" fill="#86b2d9"/>
<rect x="660.03" y="995.75" width="4.76" height="76.45" fill="#ffffff"/>
<rect x="664.48" y="995.75" width="4.76" height="76.45" fill="#c0d7eb"/>
<rect x="668.94" y="995.75" width="4.76" height="76.45" fill="#ffffff"/>
<rect x="673.4" y="995.75" width="4.76" height="76.45" fill="#e1ecf5"/>
<rect x="677.86" y="995.75" width="4.76" height="76.45" fill="#e1ecf5"/>
<rect x="682.31" y="995.75" width="4.76" height="76.45" fill="#a7c7e3"/>
<rect x="686.77" y="995.75" width="4.76" height="76.45" fill="#c0d7eb"/>
<rect x="691.23" y="995.75" width="4.76" height="76.45" fill="#a7c7e3"/>
<rect x="695.69" y="995.75" width="4.76" height="76.45" fill="#c0d7eb"/>
<rect x="700.14" y="995.75" width="4.76" height="76.45" fill="#a7c7e3"/>
<rect x="76.1" y="1072" width="4.76" height="76.45" fill="#ffffff"/>
<rect x="80.56" y="1072" width="4.76" height="76.45" fill="#c0d7eb"/>
<rect x="85.01" y="1072" width="4.76" height="76.45" fill="#e1ecf5"/>
<rect x="89.47" y="1072" width="4.76" height="76.45" fill="#ffffff"/>
<rect x="93.93" y="1072" width="4.76" height="76.45" fill="#e1ecf5"/>
<rect x="98.39" y="1072" width="4.76" height="76.45" fill="#e1ecf5"/>
<rect x="102.84" y="1072" width="4.76" height="76.45" fill="#f7e7e6"/>
<rect x="107.3" y="1072" width="4.76" height="76.45" fill="#c0d7eb"/>
<rect x="111.76" y="1072" width="4.76" height="76.45" fill="#f7e7e6"/>
<rect x="116.22" y="1072" width="4.76" height="76.45" fill="#f7e7e6"/>
<rect x="120.67" y="1072" width="4.76" height="76.45" fill="#e1ecf5"/>
<rect x="125.13" y="1072" width="4.76" height="76.45" fill="#c0d7eb"/>
<rect x="129.59" y="1072" width="4.76" height="76.45" fill="#a7c7e3"/>
<rect x="134.05" y="1072" width="4.76" height="76.45" fill="#ffffff"/>
<rect x="138.5" y="1072" width="4.76" height="76.45" fill="#5a96cb"/>
<rect x="142.96" y="1072" width="4.76" height="76.45" fill="#86b2d9"/>
<rect x="147.42" y="1072" width="4.76" height="76.45" fill="#86b2d9"/>
<rect x="151.88" y="1072" width="4.76" height="76.45" fill="#c0d7eb"/>
<rect x="156.33" y="1072" width="4.76" height="76.45" fill="#ffffff"/>
<rect x="160.79" y="1072" width="4.76" height="76.45" fill="#e1ecf5"/>
<rect x="165.25" y="1072" width="4.76" height="76.45" fill="#ffffff"/>
<rect x="169.71" y="1072" width="4.76" height="76.45" fill="#c0d7eb"/>
<rect x="174.16" y="1072" width="4.76" height="76.45" fill="#efcdca"/>
<rect x="178.62" y="1072" width="4.76" height="76.45" fill="#a7c7e3"/>
<rect x="183.08" y="1072" width="4.76" height="76.45" fill="#ffffff"/>
<rect x="187.54" y="1072" width="4.76" height="76.45" fill="#a7c7e3"/>
<rect x="191.99" y="1072" width="4.76" height="76.45" fill="#a7c7e3"/>
<rect x="196.45" y="1072" width="4.76" height="76.45" fill="#86b2d9"/>
<rect x="200.91" y="1072" width="4.76" height="76.45" fill="#a7c7e3"/>
<rect x="205.37" y="1072" width="4.76" height="76.45" fill="#a7c7e3"/>
<rect x="209.82" y="1072" width="4.76" height="76.45" fill="#a7c7e3"/>
<rect x="214.28" y="1072" width="4.76" height="76.45" fill="#a7c7e3"/>
<rect x="218.74" y="1072" width="4.76" height="76.45" fill="#ffffff"/>
<rect x="223.2" y="1072" width="4.76" height="76.45" fill="#ffffff"/>
<rect x="227.65" y="1072" width="4.76" height="76.45" fill="#86b2d9"/>
<rect x="232.11" y="1072" width="4.76" height="76.45" fill="#e1ecf5"/>
<rect x="236.57" y="1072" width="4.76" height="76.45" fill="#86b2d9"/>
<rect x="241.03" y="1072" width="4.76" height="76.45" fill="#a7c7e3"/>
<rect x="245.48" y="1072" width="4.76" height="76.45" fill="#e1ecf5"/>
<rect x="249.94" y="1072" width="4.76" height="76.45" fill="#c0d7eb"/>
<rect x="254.4" y="1072" width="4.76" height="76.45" fill="#c0d7eb"/>
<rect x="258.86" y="1072" width="4.76" height="76.45" fill="#ffffff"/>
<rect x="263.31" y="1072" width="4.76" height="76.45" fill="#ffffff"/>
<rect x="267.77" y="1072" width="4.76" height="76.45" fill="#e7b5b0"/>
<rect x="272.23" y="1072" width="4.76" height="76.45" fill="#f7e7e6"/>
<rect x="276.69" y="1072" width="4.76" height="76.45" fill="#f7e7e6"/>
<rect x="281.14" y="1072" width="4.76" height="76.45" fill="#f7e7e6"/>
<rect x="285.6" y="1072" width="4.76" height="76.45" fill="#f7e7e6"/>
<rect x="290.06" y="1072" width="4.76" height="76.45" fill="#ffffff"/>
<rect x="294.51" y="1072" width="4.76" height="76.45" fill="#ffffff"/>
<rect x="298.97" y="1072" width="4.76" height="76.45" fill="#f7e7e6"/>
<rect x="303.43" y="1072" width="4.76" height="76.45" fill="#ffffff"/>
<rect x="307.89" y="1072" width="4.76" height="76.45" fill="#ffffff"/>
<rect x="312.34" y="1072" width="4.76" height="76.45" fill="#efcdca"/>
<rect x="316.8" y="1072" width="4.76" height="76.45" fill="#f7e7e6"/>
<rect x="321.26" y="1072" width="4.76" height="76.45" fill="#e1ecf5"/>
<rect x="325.72" y="1072" width="4.76" height="76.45" fill="#a7c7e3"/>
<rect x="330.17" y="1072" width="4.76" height="76.45" fill="#efcdca"/>
<rect x="334.63" y="1072" width="4.76" height="76.45" fill="#ffffff"/>
<rect x="339.09" y="1072" width="4.76" height="76.45" fill="#e1ecf5"/>
<rect x="343.55" y="1072" width="4.76" height="76.45" fill="#ffffff"/>
<rect x="348" y="1072" width="4.76" height="76.45" fill="#ffffff"/>
<rect x="352.46" y="1072" width="4.76" height="76.45" fill="#ffffff"/>
<rect x="356.92" y="1072" width="4.76" height="76.45" fill="#ffffff"/>
<rect x="361.38" y="1072" width="4.76" height="76.45" fill="#ffffff"/>
<rect x="365.83" y="1072" width="4.76" height="76.45" fill="#e7b5b0"/>
<rect x="370.29" y="1072" width="4.76" height="76.45" fill="#efcdca"/>
<rect x="374.75" y="1072" width="4.76" height="76.45" fill="#e1ecf5"/>
<rect x="379.21" y="1072" width="4.76" height="76.45" fill="#e7b5b0"/>
<rect x="383.66" y="1072" width="4.76" height="76.45" fill="#e7b5b0"/>
<rect x="388.12" y="1072" width="4.76" height="76.45" fill="#f7e7e6"/>
<rect x="392.58" y="1072" width="4.76" height="76.45" fill="#c0d7eb"/>
<rect x="397.04" y="1072" width="4.76" height="76.45" fill="#f7e7e6"/>
<rect x="401.49" y="1072" width="4.76" height="76.45" fill="#f7e7e6"/>
<rect x="405.95" y="1072" width="4.76" height="76.45" fill="#ffffff"/>
<rect x="410.41" y="1072" width="4.76" height="76.45" fill="#ffffff"/>
<rect x="414.87" y="1072" width="4.76" height="76.45" fill="#f7e7e6"/>
<rect x="419.32" y="1072" width="4.76" height="76.45" fill="#e7b5b0"/>
<rect x="423.78" y="1072" width="4.76" height="76.45" fill="#f7e7e6"/>
<rect x="428.24" y="1072" width="4.76" height="76.45" fill="#efcdca"/>
<rect x="432.7" y="1072" width="4.76" height="76.45" fill="#ffffff"/>
<rect x="437.15" y="1072" width="4.76" height="76.45" fill="#ffffff"/>
<rect x="441.61" y="1072" width="4.76" height="76.45" fill="#a7c7e3"/>
<rect x="446.07" y="1072" width="4.76" height="76.45" fill="#ffffff"/>
<rect x="450.53" y="1072" width="4.76" height="76.45" fill="#f7e7e6"/>
<rect x="454.98" y="1072" width="4.76" height="76.45" fill="#e1ecf5"/>
<rect x="459.44" y="1072" width="4.76" height="76.45" fill="#ffffff"/>
<rect x="463.9" y="1072" width="4.76" height="76.45" fill="#efcdca"/>
<rect x="468.36" y="1072" width="4.76" height="76.45" fill="#a7c7e3"/>
<rect x="472.81" y="1072" width="4.76" height="76.45" fill="#f7e7e6"/>
<rect x="477.27" y="1072" width="4.76" height="76.45" fill="#ffffff"/>
<rect x="481.73" y="1072" width="4.76" height="76.45" fill="#f7e7e6"/>
<rect x="486.19" y="1072" width="4.76" height="76.45" fill="#f7e7e6"/>
<rect x="490.64" y="1072" width="4.76" height="76.45" fill="#d7857e"/>
<rect x="495.1" y="1072" width="4.76" height="76.45" fill="#efcdca"/>
<rect x="499.56" y="1072" width="4.76" height="76.45" fill="#e7b5b0"/>
<rect x="504.01" y="1072" width="4.76" height="76.45" fill="#ffffff"/>
<rect x="508.47" y="1072" width="4.76" height="76.45" fill="#efcdca"/>
<rect x="512.93" y="1072" width="4.76" height="76.45" fill="#ffffff"/>
<rect x="517.39" y="1072" width="4.76" height="76.45" fill="#f7e7e6"/>
<rect x="521.84" y="1072" width="4.76" height="76.45" fill="#f7e7e6"/>
<rect x="526.3" y="1072" width="4.76" height="76.45" fill="#efcdca"/>
<rect x="530.76" y="1072" width="4.76" height="76.45" fill="#efcdca"/>
<rect x="535.22" y="1072" width="4.76" height="76.45" fill="#c0d7eb"/>
<rect x="539.67" y="1072" width="4.76" height="76.45" fill="#f7e7e6"/>
<rect x="544.13" y="1072" width="4.76" height="76.45" fill="#e7b5b0"/>
<rect x="548.59" y="1072" width="4.76" height="76.45" fill="#e7b5b0"/>
<rect x="553.05" y="1072" width="4.76" height="76.45" fill="#e7b5b0"/>
<rect x="557.5" y="1072" width="4.76" height="76.45" fill="#ffffff"/>
<rect x="561.96" y="1072" width="4.76" height="76.45" fill="#efcdca"/>
<rect x="566.42" y="1072" width="4.76" height="76.45" fill="#d7857e"/>
<rect x="570.88" y="1072" width="4.76" height="76.45" fill="#efcdca"/>
<rect x="575.33" y="1072" width="4.76" height="76.45" fill="#e1ecf5"/>
<rect x="579.79" y="1072" width="4.76" height="76.45" fill="#f7e7e6"/>
<rect x="584.25" y="1072" width="4.76" height="76.45" fill="#86b2d9"/>
<rect x="588.71" y="1072" width="4.76" height="76.45" fill="#ffffff"/>
<rect x="593.16" y="1072" width="4.76" height="76.45" fill="#ffffff"/>
<rect x="597.62" y="1072" width="4.76" height="76.45" fill="#e1ecf5"/>
<rect x="602.08" y="1072" width="4.76" height="76.45" fill="#efcdca"/>
<rect x="606.54" y="1072" width="4.76" height="76.45" fill="#e1ecf5"/>
<rect x="610.99" y="1072" width="4.76" height="76.45" fill="#efcdca"/>
<rect x="615.45" y="1072" width="4.76" height="76.45" fill="#ffffff"/>
<rect x="619.91" y="1072" width="4.76" height="76.45" fill="#f7e7e6"/>
<rect x="624.37" y="1072" width="4.76" height="76.45" fill="#a7c7e3"/>
<rect x="628.82" y="1072" width="4.76" height="76.45" fill="#ffffff"/>
<rect x="633.28" y="1072" width="4.76" height="76.45" fill="#e1ecf5"/>
<rect x="637.74" y="1072" width="4.76" height="76.45" fill="#efcdca"/>
<rect x="642.2" y="1072" width="4.76" height="76.45" fill="#f7e7e6"/>
<rect x="646.65" y="1072" width="4.76" height="76.45" fill="#efcdca"/>
<rect x="651.11" y="1072" width="4.76" height="76.45" fill="#efcdca"/>
<rect x="655.57" y="1072" width="4.76" height="76.45" fill="#e7b5b0"/>
<rect x="660.03" y="1072" width="4.76" height="76.45" fill="#e7b5b0"/>
<rect x="664.48" y="1072" width="4.76" height="76.45" fill="#f7e7e6"/>
<rect x="668.94" y="1072" width="4.76" height="76.45" fill="#de9a95"/>
<rect x="673.4" y="1072" width="4.76" height="76.45" fill="#f7e7e6"/>
<rect x="677.86" y="1072" width="4.76" height="76.45" fill="#ffffff"/>
<rect x="682.31" y="1072" width="4.76" height="76.45" fill="#e1ecf5"/>
<rect x="686.77" y="1072" width="4.76" height="76.45" fill="#c0d7eb"/>
<rect x="691.23" y="1072" width="4.76" height="76.45" fill="#ffffff"/>
<rect x="695.69" y="1072" width="4.76" height="76.45" fill="#f7e7e6"/>
<rect x="700.14" y="1072" width="4.76" height="76.45" fill="#e1ecf5"/>
<rect x="76.1" y="1148.25" width="4.76" height="76.45" fill="#f7e7e6"/>
<rect x="80.56" y="1148.25" width="4.76" height="76.45" fill="#e1ecf5"/>
<rect x="85.01" y="1148.25" width="4.76" height="76.45" fill="#e1ecf5"/>
<rect x="89.47" y="1148.25" width="4.76" height="76.45" fill="#e1ecf5"/>
<rect x="93.93" y="1148.25" width="4.76" height="76.45" fill="#c0d7eb"/>
<rect x="98.39" y="1148.25" width="4.76" height="76.45" fill="#86b2d9"/>
<rect x="102.84" y="1148.25" width="4.76" height="76.45" fill="#c0d7eb"/>
<rect x="107.3" y="1148.25" width="4.76" height="76.45" fill="#e1ecf5"/>
<rect x="111.76" y="1148.25" width="4.76" height="76.45" fill="#ffffff"/>
<rect x="116.22" y="1148.25" width="4.76" height="76.45" fill="#a7c7e3"/>
<rect x="120.67" y="1148.25" width="4.76" height="76.45" fill="#70a4d2"/>
<rect x="125.13" y="1148.25" width="4.76" height="76.45" fill="#70a4d2"/>
<rect x="129.59" y="1148.25" width="4.76" height="76.45" fill="#86b2d9"/>
<rect x="134.05" y="1148.25" width="4.76" height="76.45" fill="#e1ecf5"/>
<rect x="138.5" y="1148.25" width="4.76" height="76.45" fill="#e1ecf5"/>
<rect x="142.96" y="1148.25" width="4.76" height="76.45" fill="#c0d7eb"/>
<rect x="147.42" y="1148.25" width="4.76" height="76.45" fill="#a7c7e3"/>
<rect x="151.88" y="1148.25" width="4.76" height="76.45" fill="#c0d7eb"/>
<rect x="156.33" y="1148.25" width="4.76" height="76.45" fill="#c0d7eb"/>
<rect x="160.79" y="1148.25" width="4.76" height="76.45" fill="#c0d7eb"/>
<rect x="165.25" y="1148.25" width="4.76" height="76.45" fill="#c0d7eb"/>
<rect x="169.71" y="1148.25" width="4.76" height="76.45" fill="#f7e7e6"/>
<rect x="174.16" y="1148.25" width="4.76" height="76.45" fill="#e1ecf5"/>
<rect x="178.62" y="1148.25" width="4.76" height="76.45" fill="#c0d7eb"/>
<rect x="183.08" y="1148.25" width="4.76" height="76.45" fill="#a7c7e3"/>
<rect x="187.54" y="1148.25" width="4.76" height="76.45" fill="#e1ecf5"/>
<rect x="191.99" y="1148.25" width="4.76" height="76.45" fill="#e1ecf5"/>
<rect x="196.45" y="1148.25" width="4.76" height="76.45" fill="#c0d7eb"/>
<rect x="200.91" y="1148.25" width="4.76" height="76.45" fill="#c0d7eb"/>
<rect x="205.37" y="1148.25" width="4.76" height="76.45" fill="#c0d7eb"/>
<rect x="209.82" y="1148.25" width="4.76" height="76.45" fill="#86b2d9"/>
<rect x="214.28" y="1148.25" width="4.76" height="76.45" fill="#86b2d9"/>
<rect x="218.74" y="1148.25" width="4.76" height="76.45" fill="#c0d7eb"/>
<rect x="223.2" y="1148.25" width="4.76" height="76.45" fill="#a7c7e3"/>
<rect x="227.65" y="1148.25" width="4.76" height="76.45" fill="#c0d7eb"/>
<rect x="232.11" y="1148.25" width="4.76" height="76.45" fill="#c0d7eb"/>
<rect x="236.57" y="1148.25" width="4.76" height="76.45" fill="#c0d7eb"/>
<rect x="241.03" y="1148.25" width="4.76" height="76.45" fill="#a7c7e3"/>
<rect x="245.48" y="1148.25" width="4.76" height="76.45" fill="#e1ecf5"/>
<rect x="249.94" y="1148.25" width="4.76" height="76.45" fill="#c0d7eb"/>
<rect x="254.4" y="1148.25" width="4.76" height="76.45" fill="#c0d7eb"/>
<rect x="258.86" y="1148.25" width="4.76" height="76.45" fill="#ffffff"/>
<rect x="263.31" y="1148.25" width="4.76" height="76.45" fill="#ffffff"/>
<rect x="267.77" y="1148.25" width="4.76" height="76.45" fill="#efcdca"/>
<rect x="272.23" y="1148.25" width="4.76" height="76.45" fill="#e1ecf5"/>
<rect x="276.69" y="1148.25" width="4.76" height="76.45" fill="#a7c7e3"/>
<rect x="281.14" y="1148.25" width="4.76" height="76.45" fill="#efcdca"/>
<rect x="285.6" y="1148.25" width="4.76" height="76.45" fill="#efcdca"/>
<rect x="290.06" y="1148.25" width="4.76" height="76.45" fill="#f7e7e6"/>
<rect x="294.51" y="1148.25" width="4.76" height="76.45" fill="#ffffff"/>
<rect x="298.97" y="1148.25" width="4.76" height="76.45" fill="#e7b5b0"/>
<rect x="303.43" y="1148.25" width="4.76" height="76.45" fill="#f7e7e6"/>
<rect x="307.89" y="1148.25" width="4.76" height="76.45" fill="#f7e7e6"/>
<rect x="312.34" y="1148.25" width="4.76" height="76.45" fill="#f7e7e6"/>
<rect x="316.8" y="1148.25" width="4.76" height="76.45" fill="#f7e7e6"/>
<rect x="321.26" y="1148.25" width="4.76" height="76.45" fill="#ffffff"/>
<rect x="325.72" y="1148.25" width="4.76" height="76.45" fill="#e1ecf5"/>
<rect x="330.17" y="1148.25" width="4.76" height="76.45" fill="#e1ecf5"/>
<rect x="334.63" y="1148.25" width="4.76" height="76.45" fill="#e1ecf5"/>
<rect x="339.09" y="1148.25" width="4.76" height="76.45" fill="#ffffff"/>
<rect x="343.55" y="1148.25" width="4.76" height="76.45" fill="#ffffff"/>
<rect x="348" y="1148.25" width="4.76" height="76.45" fill="#ffffff"/>
<rect x="352.46" y="1148.25" width="4.76" height="76.45" fill="#c0d7eb"/>
<rect x="356.92" y="1148.25" width="4.76" height="76.45" fill="#c0d7eb"/>
<rect x="361.38" y="1148.25" width="4.76" height="76.45" fill="#c0d7eb"/>
<rect x="365.83" y="1148.25" width="4.76" height="76.45" fill="#efcdca"/>
<rect x="370.29" y="1148.25" width="4.76" height="76.45" fill="#e1ecf5"/>
<rect x="374.75" y="1148.25" width="4.76" height="76.45" fill="#e1ecf5"/>
<rect x="379.21" y="1148.25" width="4.76" height="76.45" fill="#f7e7e6"/>
<rect x="383.66" y="1148.25" width="4.76" height="76.45" fill="#f7e7e6"/>
<rect x="388.12" y="1148.25" width="4.76" height="76.45" fill="#ffffff"/>
<rect x="392.58" y="1148.25" width="4.76" height="76.45" fill="#efcdca"/>
<rect x="397.04" y="1148.25" width="4.76" height="76.45" fill="#ffffff"/>
<rect x="401.49" y="1148.25" width="4.76" height="76.45" fill="#f7e7e6"/>
<rect x="405.95" y="1148.25" width="4.76" height="76.45" fill="#c0d7eb"/>
<rect x="410.41" y="1148.25" width="4.76" height="76.45" fill="#e1ecf5"/>
<rect x="414.87" y="1148.25" width="4.76" height="76.45" fill="#ffffff"/>
<rect x="419.32" y="1148.25" width="4.76" height="76.45" fill="#ffffff"/>
<rect x="423.78" y="1148.25" width="4.76" height="76.45" fill="#ffffff"/>
<rect x="428.24" y="1148.25" width="4.76" height="76.45" fill="#f7e7e6"/>
<rect x="432.7" y="1148.25" width="4.76" height="76.45" fill="#e1ecf5"/>
<rect x="437.15" y="1148.25" width="4.76" height="76.45" fill="#e1ecf5"/>
<rect x="441.61" y="1148.25" width="4.76" height="76.45" fill="#e1ecf5"/>
<rect x="446.07" y="1148.25" width="4.76" height="76.45" fill="#e7b5b0"/>
<rect x="450.53" y="1148.25" width="4.76" height="76.45" fill="#ffffff"/>
<rect x="454.98" y="1148.25" width="4.76" height="76.45" fill="#ffffff"/>
<rect x="459.44" y="1148.25" width="4.76" height="76.45" fill="#e7b5b0"/>
<rect x="463.9" y="1148.25" width="4.76" height="76.45" fill="#ffffff"/>
<rect x="468.36" y="1148.25" width="4.76" height="76.45" fill="#c0d7eb"/>
<rect x="472.81" y="1148.25" width="4.76" height="76.45" fill="#f7e7e6"/>
<rect x="477.27" y="1148.25" width="4.76" height="76.45" fill="#f7e7e6"/>
<rect x="481.73" y="1148.25" width="4.76" height="76.45" fill="#e7b5b0"/>
<rect x="486.19" y="1148.25" width="4.76" height="76.45" fill="#ffffff"/>
<rect x="490.64" y="1148.25" width="4.76" height="76.45" fill="#d7857e"/>
<rect x="495.1" y="1148.25" width="4.76" height="76.45" fill="#de9a95"/>
<rect x="499.56" y="1148.25" width="4.76" height="76.45" fill="#de9a95"/>
<rect x="504.01" y="1148.25" width="4.76" height="76.45" fill="#efcdca"/>
<rect x="508.47" y="1148.25" width="4.76" height="76.45" fill="#efcdca"/>
<rect x="512.93" y="1148.25" width="4.76" height="76.45" fill="#efcdca"/>
<rect x="517.39" y="1148.25" width="4.76" height="76.45" fill="#e7b5b0"/>
<rect x="521.84" y="1148.25" width="4.76" height="76.45" fill="#e7b5b0"/>
<rect x="526.3" y="1148.25" width="4.76" height="76.45" fill="#e7b5b0"/>
<rect x="530.76" y="1148.25" width="4.76" height="76.45" fill="#ffffff"/>
<rect x="535.22" y="1148.25" width="4.76" height="76.45" fill="#f7e7e6"/>
<rect x="539.67" y="1148.25" width="4.76" height="76.45" fill="#ffffff"/>
<rect x="544.13" y="1148.25" width="4.76" height="76.45" fill="#efcdca"/>
<rect x="548.59" y="1148.25" width="4.76" height="76.45" fill="#de9a95"/>
<rect x="553.05" y="1148.25" width="4.76" height="76.45" fill="#ffffff"/>
<rect x="557.5" y="1148.25" width="4.76" height="76.45" fill="#e7b5b0"/>
<rect x="561.96" y="1148.25" width="4.76" height="76.45" fill="#e1ecf5"/>
<rect x="566.42" y="1148.25" width="4.76" height="76.45" fill="#e7b5b0"/>
<rect x="570.88" y="1148.25" width="4.76" height="76.45" fill="#e7b5b0"/>
<rect x="575.33" y="1148.25" width="4.76" height="76.45" fill="#efcdca"/>
<rect x="579.79" y="1148.25" width="4.76" height="76.45" fill="#ffffff"/>
<rect x="584.25" y="1148.25" width="4.76" height="76.45" fill="#e1ecf5"/>
<rect x="588.71" y="1148.25" width="4.76" height="76.45" fill="#e1ecf5"/>
<rect x="593.16" y="1148.25" width="4.76" height="76.45" fill="#ffffff"/>
<rect x="597.62" y="1148.25" width="4.76" height="76.45" fill="#f7e7e6"/>
<rect x="602.08" y="1148.25" width="4.76" height="76.45" fill="#e7b5b0"/>
<rect x="606.54" y="1148.25" width="4.76" height="76.45" fill="#c0d7eb"/>
<rect x="610.99" y="1148.25" width="4.76" height="76.45" fill="#efcdca"/>
<rect x="615.45" y="1148.25" width="4.76" height="76.45" fill="#ffffff"/>
<rect x="619.91" y="1148.25" width="4.76" height="76.45" fill="#ffffff"/>
<rect x="624.37" y="1148.25" width="4.76" height="76.45" fill="#f7e7e6"/>
<rect x="628.82" y="1148.25" width="4.76" height="76.45" fill="#f7e7e6"/>
<rect x="633.28" y="1148.25" width="4.76" height="76.45" fill="#ffffff"/>
<rect x="637.74" y="1148.25" width="4.76" height="76.45" fill="#ffffff"/>
<rect x="642.2" y="1148.25" width="4.76" height="76.45" fill="#f7e7e6"/>
<rect x="646.65" y="1148.25" width="4.76" height="76.45" fill="#efcdca"/>
<rect x="651.11" y="1148.25" width="4.76" height="76.45" fill="#f7e7e6"/>
<rect x="655.57" y="1148.25" width="4.76" height="76.45" fill="#f7e7e6"/>
<rect x="660.03" y="1148.25" width="4.76" height="76.45" fill="#e7b5b0"/>
<rect x="664.48" y="1148.25" width="4.76" height="76.45" fill="#efcdca"/>
<rect x="668.94" y="1148.25" width="4.76" height="76.45" fill="#f7e7e6"/>
<rect x="673.4" y="1148.25" width="4.76" height="76.45" fill="#f7e7e6"/>
<rect x="677.86" y="1148.25" width="4.76" height="76.45" fill="#f7e7e6"/>
<rect x="682.31" y="1148.25" width="4.76" height="76.45" fill="#efcdca"/>
<rect x="686.77" y="1148.25" width="4.76" height="76.45" fill="#ffffff"/>
<rect x="691.23" y="1148.25" width="4.76" height="76.45" fill="#ffffff"/>
<rect x="695.69" y="1148.25" width="4.76" height="76.45" fill="#efcdca"/>
<rect x="700.14" y="1148.25" width="4.76" height="76.45" fill="#e1ecf5"/>
<rect x="76.1" y="1224.5" width="4.76" height="76.45" fill="#f7e7e6"/>
<rect x="80.56" y="1224.5" width="4.76" height="76.45" fill="#ffffff"/>
<rect x="85.01" y="1224.5" width="4.76" height="76.45" fill="#ffffff"/>
<rect x="89.47" y="1224.5" width="4.76" height="76.45" fill="#f7e7e6"/>
<rect x="93.93" y="1224.5" width="4.76" height="76.45" fill="#f7e7e6"/>
<rect x="98.39" y="1224.5" width="4.76" height="76.45" fill="#ffffff"/>
<rect x="102.84" y="1224.5" width="4.76" height="76.45" fill="#ffffff"/>
<rect x="107.3" y="1224.5" width="4.76" height="76.45" fill="#ffffff"/>
<rect x="111.76" y="1224.5" width="4.76" height="76.45" fill="#e1ecf5"/>
<rect x="116.22" y="1224.5" width="4.76" height="76.45" fill="#efcdca"/>
<rect x="120.67" y="1224.5" width="4.76" height="76.45" fill="#c0d7eb"/>
<rect x="125.13" y="1224.5" width="4.76" height="76.45" fill="#c0d7eb"/>
<rect x="129.59" y="1224.5" width="4.76" height="76.45" fill="#a7c7e3"/>
<rect x="134.05" y="1224.5" width="4.76" height="76.45" fill="#e1ecf5"/>
<rect x="138.5" y="1224.5" width="4.76" height="76.45" fill="#ffffff"/>
<rect x="142.96" y="1224.5" width="4.76" height="76.45" fill="#86b2d9"/>
<rect x="147.42" y="1224.5" width="4.76" height="76.45" fill="#e1ecf5"/>
<rect x="151.88" y="1224.5" width="4.76" height="76.45" fill="#e1ecf5"/>
<rect x="156.33" y="1224.5" width="4.76" height="76.45" fill="#e1ecf5"/>
<rect x="160.79" y="1224.5" width="4.76" height="76.45" fill="#c0d7eb"/>
<rect x="165.25" y="1224.5" width="4.76" height="76.45" fill="#e1ecf5"/>
<rect x="169.71" y="1224.5" width="4.76" height="76.45" fill="#e1ecf5"/>
<rect x="174.16" y="1224.5" width="4.76" height="76.45" fill="#ffffff"/>
<rect x="178.62" y="1224.5" width="4.76" height="76.45" fill="#c0d7eb"/>
<rect x="183.08" y="1224.5" width="4.76" height="76.45" fill="#efcdca"/>
<rect x="187.54" y="1224.5" width="4.76" height="76.45" fill="#e1ecf5"/>
<rect x="191.99" y="1224.5" width="4.76" height="76.45" fill="#e1ecf5"/>
<rect x="196.45" y="1224.5" width="4.76" height="76.45" fill="#e1ecf5"/>
<rect x="200.91" y="1224.5" width="4.76" height="76.45" fill="#c0d7eb"/>
<rect x="205.37" y="1224.5" width="4.76" height="76.45" fill="#e1ecf5"/>
<rect x="209.82" y="1224.5" width="4.76" height="76.45" fill="#a7c7e3"/>
<rect x="214.28" y="1224.5" width="4.76" height="76.45" fill="#86b2d9"/>
<rect x="218.74" y="1224.5" width="4.76" height="76.45" fill="#c0d7eb"/>
<rect x="223.2" y="1224.5" width="4.76" height="76.45" fill="#c0d7eb"/>
<rect x="227.65" y="1224.5" width="4.76" height="76.45" fill="#c0d7eb"/>
<rect x="232.11" y="1224.5" width="4.76" height="76.45" fill="#a7c7e3"/>
<rect x="236.57" y="1224.5" width="4.76" height="76.45" fill="#c0d7eb"/>
<rect x="241.03" y="1224.5" width="4.76" height="76.45" fill="#c0d7eb"/>
<rect x="245.48" y="1224.5" width="4.76" height="76.45" fill="#ffffff"/>
<rect x="249.94" y="1224.5" width="4.76" height="76.45" fill="#c0d7eb"/>
<rect x="254.4" y="1224.5" width="4.76" height="76.45" fill="#c0d7eb"/>
<rect x="258.86" y="1224.5" width="4.76" height="76.45" fill="#c0d7eb"/>
<rect x="263.31" y="1224.5" width="4.76" height="76.45" fill="#e1ecf5"/>
<rect x="267.77" y="1224.5" width="4.76" height="76.45" fill="#f7e7e6"/>
<rect x="272.23" y="1224.5" width="4.76" height="76.45" fill="#e1ecf5"/>
<rect x="276.69" y="1224.5" width="4.76" height="76.45" fill="#a7c7e3"/>
<rect x="281.14" y="1224.5" width="4.76" height="76.45" fill="#e7b5b0"/>
<rect x="285.6" y="1224.5" width="4.76" height="76.45" fill="#e1ecf5"/>
<rect x="290.06" y="1224.5" width="4.76" height="76.45" fill="#c0d7eb"/>
<rect x="294.51" y="1224.5" width="4.76" height="76.45" fill="#ffffff"/>
<rect x="298.97" y="1224.5" width="4.76" height="76.45" fill="#ffffff"/>
<rect x="303.43" y="1224.5" width="4.76" height="76.45" fill="#e1ecf5"/>
<rect x="307.89" y="1224.5" width="4.76" height="76.45" fill="#e1ecf5"/>
<rect x="312.34" y="1224.5" width="4.76" height="76.45" fill="#e1ecf5"/>
<rect x="316.8" y="1224.5" width="4.76" height="76.45" fill="#ffffff"/>
<rect x="321.26" y="1224.5" width="4.76" height="76.45" fill="#a7c7e3"/>
<rect x="325.72" y="1224.5" width="4.76" height="76.45" fill="#a7c7e3"/>
<rect x="330.17" y="1224.5" width="4.76" height="76.45" fill="#c0d7eb"/>
<rect x="334.63" y="1224.5" width="4.76" height="76.45" fill="#e1ecf5"/>
<rect x="339.09" y="1224.5" width="4.76" height="76.45" fill="#e1ecf5"/>
<rect x="343.55" y="1224.5" width="4.76" height="76.45" fill="#ffffff"/>
<rect x="348" y="1224.5" width="4.76" height="76.45" fill="#f7e7e6"/>
<rect x="352.46" y="1224.5" width="4.76" height="76.45" fill="#c0d7eb"/>
<rect x="356.92" y="1224.5" width="4.76" height="76.45" fill="#c0d7eb"/>
<rect x="361.38" y="1224.5" width="4.76" height="76.45" fill="#c0d7eb"/>
<rect x="365.83" y="1224.5" width="4.76" height="76.45" fill="#f7e7e6"/>
<rect x="370.29" y="1224.5" width="4.76" height="76.45" fill="#e1ecf5"/>
<rect x="374.75" y="1224.5" width="4.76" height="76.45" fill="#e1ecf5"/>
<rect x="379.21" y="1224.5" width="4.76" height="76.45" fill="#ffffff"/>
<rect x="383.66" y="1224.5" width="4.76" height="76.45" fill="#ffffff"/>
<rect x="388.12" y="1224.5" width="4.76" height="76.45" fill="#e1ecf5"/>
<rect x="392.58" y="1224.5" width="4.76" height="76.45" fill="#f7e7e6"/>
<rect x="397.04" y="1224.5" width="4.76" height="76.45" fill="#ffffff"/>
<rect x="401.49" y="1224.5" width="4.76" height="76.45" fill="#f7e7e6"/>
<rect x="405.95" y="1224.5" width="4.76" height="76.45" fill="#c0d7eb"/>
<rect x="410.41" y="1224.5" width="4.76" height="76.45" fill="#e1ecf5"/>
<rect x="414.87" y="1224.5" width="4.76" height="76.45" fill="#a7c7e3"/>
<rect x="419.32" y="1224.5" width="4.76" height="76.45" fill="#e1ecf5"/>
<rect x="423.78" y="1224.5" width="4.76" height="76.45" fill="#e7b5b0"/>
<rect x="428.24" y="1224.5" width="4.76" height="76.45" fill="#f7e7e6"/>
<rect x="432.7" y="1224.5" width="4.76" height="76.45" fill="#e7b5b0"/>
<rect x="437.15" y="1224.5" width="4.76" height="76.45" fill="#e1ecf5"/>
<rect x="441.61" y="1224.5" width="4.76" height="76.45" fill="#e1ecf5"/>
<rect x="446.07" y="1224.5" width="4.76" height="76.45" fill="#f7e7e6"/>
<rect x="450.53" y="1224.5" width="4.76" height="76.45" fill="#ffffff"/>
<rect x="454.98" y="1224.5" width="4.76" height="76.45" fill="#ffffff"/>
<rect x="459.44" y="1224.5" width="4.76" height="76.45" fill="#e7b5b0"/>
<rect x="463.9" y="1224.5" width="4.76" height="76.45" fill="#e1ecf5"/>
<rect x="468.36" y="1224.5" width="4.76" height="76.45" fill="#ffffff"/>
<rect x="472.81" y="1224.5" width="4.76" height="76.45" fill="#f7e7e6"/>
<rect x="477.27" y="1224.5" width="4.76" height="76.45" fill="#efcdca"/>
<rect x="481.73" y="1224.5" width="4.76" height="76.45" fill="#e7b5b0"/>
<rect x="486.19" y="1224.5" width="4.76" height="76.45" fill="#e7b5b0"/>
<rect x="490.64" y="1224.5" width="4.76" height="76.45" fill="#de9a95"/>
<rect x="495.1" y="1224.5" width="4.76" height="76.45" fill="#f7e7e6"/>
<rect x="499.56" y="1224.5" width="4.76" height="76.45" fill="#e7b5b0"/>
<rect x="504.01" y="1224.5" width="4.76" height="76.45" fill="#de9a95"/>
<rect x="508.47" y="1224.5" width="4.76" height="76.45" fill="#efcdca"/>
<rect x="512.93" y="1224.5" width="4.76" height="76.45" fill="#e7b5b0"/>
<rect x="517.39" y="1224.5" width="4.76" height="76.45" fill="#e7b5b0"/>
<rect x="521.84" y="1224.5" width="4.76" height="76.45" fill="#e7b5b0"/>
<rect x="526.3" y="1224.5" width="4.76" height="76.45" fill="#e7b5b0"/>
<rect x="530.76" y="1224.5" width="4.76" height="76.45" fill="#efcdca"/>
<rect x="535.22" y="1224.5" width="4.76" height="76.45" fill="#d7857e"/>
<rect x="539.67" y="1224.5" width="4.76" height="76.45" fill="#efcdca"/>
<rect x="544.13" y="1224.5" width="4.76" height="76.45" fill="#efcdca"/>
<rect x="548.59" y="1224.5" width="4.76" height="76.45" fill="#e7b5b0"/>
<rect x="553.05" y="1224.5" width="4.76" height="76.45" fill="#ffffff"/>
<rect x="557.5" y="1224.5" width="4.76" height="76.45" fill="#e7b5b0"/>
<rect x="561.96" y="1224.5" width="4.76" height="76.45" fill="#ffffff"/>
<rect x="566.42" y="1224.5" width="4.76" height="76.45" fill="#d7857e"/>
<rect x="570.88" y="1224.5" width="4.76" height="76.45" fill="#de9a95"/>
<rect x="575.33" y="1224.5" width="4.76" height="76.45" fill="#d1716a"/>
<rect x="579.79" y="1224.5" width="4.76" height="76.45" fill="#ffffff"/>
<rect x="584.25" y="1224.5" width="4.76" height="76.45" fill="#ffffff"/>
<rect x="588.71" y="1224.5" width="4.76" height="76.45" fill="#c0d7eb"/>
<rect x="593.16" y="1224.5" width="4.76" height="76.45" fill="#ffffff"/>
<rect x="597.62" y="1224.5" width="4.76" height="76.45" fill="#ffffff"/>
<rect x="602.08" y="1224.5" width="4.76" height="76.45" fill="#f7e7e6"/>
<rect x="606.54" y="1224.5" width="4.76" height="76.45" fill="#f7e7e6"/>
<rect x="610.99" y="1224.5" width="4.76" height="76.45" fill="#f7e7e6"/>
<rect x="615.45" y="1224.5" width="4.76" height="76.45" fill="#e1ecf5"/>
<rect x="619.91" y="1224.5" width="4.76" height="76.45" fill="#f7e7e6"/>
<rect x="624.37" y="1224.5" width="4.76" height="76.45" fill="#ffffff"/>
<rect x="628.82" y="1224.5" width="4.76" height="76.45" fill="#f7e7e6"/>
<rect x="633.28" y="1224.5" width="4.76" height="76.45" fill="#e1ecf5"/>
<rect x="637.74" y="1224.5" width="4.76" height="76.45" fill="#ffffff"/>
<rect x="642.2" y="1224.5" width="4.76" height="76.45" fill="#ffffff"/>
<rect x="646.65" y="1224.5" width="4.76" height="76.45" fill="#f7e7e6"/>
<rect x="651.11" y="1224.5" width="4.76" height="76.45" fill="#ffffff"/>
<rect x="655.57" y="1224.5" width="4.76" height="76.45" fill="#ffffff"/>
<rect x="660.03" y="1224.5" width="4.76" height="76.45" fill="#efcdca"/>
<rect x="664.48" y="1224.5" width="4.76" height="76.45" fill="#f7e7e6"/>
<rect x="668.94" y="1224.5" width="4.76" height="76.45" fill="#a7c7e3"/>
<rect x="673.4" y="1224.5" width="4.76" height="76.45" fill="#c0d7eb"/>
<rect x="677.86" y="1224.5" width="4.76" height="76.45" fill="#c0d7eb"/>
<rect x="682.31" y="1224.5" width="4.76" height="76.45" fill="#ffffff"/>
<rect x="686.77" y="1224.5" width="4.76" height="76.45" fill="#ffffff"/>
<rect x="691.23" y="1224.5" width="4.76" height="76.45" fill="#a7c7e3"/>
<rect x="695.69" y="1224.5" width="4.76" height="76.45" fill="#ffffff"/>
<rect x="700.14" y="1224.5" width="4.76" height="76.45" fill="#c0d7eb"/>
</g>
<g stroke="#222" stroke-width="0.9" fill="none" stroke-linecap="square">
<line x1="24.25" y1="881.5" x2="76.5" y2="881.5"/>
<line x1="24.25" y1="958.25" x2="76.5" y2="958.25"/>
<line x1="24.25" y1="881.5" x2="24.25" y2="958.25"/>
<line x1="12" y1="919.75" x2="24.25" y2="919.75"/>
<line x1="12" y1="919.75" x2="12" y2="1100.5"/>
<line x1="12" y1="1100.5" x2="23" y2="1100.5"/>
<line x1="23" y1="1034.25" x2="76.5" y2="1034.25"/>
<line x1="23" y1="1034.25" x2="23" y2="1167.75"/>
<line x1="23" y1="1167.75" x2="33.25" y2="1167.75"/>
<line x1="33.25" y1="1110.5" x2="76.5" y2="1110.5"/>
<line x1="33.25" y1="1110.5" x2="33.25" y2="1224.75"/>
<line x1="33.25" y1="1224.75" x2="44.25" y2="1224.75"/>
<line x1="44.25" y1="1186.75" x2="76.5" y2="1186.75"/>
<line x1="44.25" y1="1263" x2="76.5" y2="1263"/>
<line x1="44.25" y1="1186.75" x2="44.25" y2="1263"/>
</g>
<text class="s" x="708" y="885.55" font-size="12" fill="#111">GLIS2****</text>
<text class="s" x="708" y="961.8" font-size="12" fill="#111">ATF2****</text>
<text class="s" x="708" y="1038.05" font-size="12" fill="#111">CEBPB*</text>
<text class="s" x="708" y="1114.3" font-size="12" fill="#111">RAD21****</text>
<text class="s" x="708" y="1190.55" font-size="12" fill="#111">DDX20****</text>
<text class="s" x="708" y="1266.8" font-size="12" fill="#111">ZBTB26****</text>
<linearGradient id="gD" x1="0" y1="0" x2="0" y2="1"><stop offset="0" stop-color="#d06f67"/><stop offset="0.5" stop-color="#ffffff"/><stop offset="1" stop-color="#5a96cb"/></linearGradient>
<rect x="781" y="828" width="12.5" height="168" fill="url(#gD)"/>
<text class="s" x="798" y="832.2" font-size="12" fill="#111">3</text>
<text class="s" x="798" y="860.2" font-size="12" fill="#111">2</text>
<text class="s" x="798" y="888.2" font-size="12" fill="#111">1</text>
<text class="s" x="798" y="916.2" font-size="12" fill="#111">0</text>
<text class="s" x="798" y="944.2" font-size="12" fill="#111">−1</text>
<text class="s" x="798" y="972.2" font-size="12" fill="#111">−2</text>
<text class="s" x="798" y="1000.2" font-size="12" fill="#111">−3</text>
<text class="s" x="823.75" y="836.5" font-size="12" font-weight="bold" fill="#111">group</text>
<rect x="823.75" y="840" width="17.5" height="16" fill="#5b96c9"/>
<rect x="823.75" y="856" width="17.5" height="16" fill="#d0716a"/>
<text class="s" x="844.75" y="852.3" font-size="12" fill="#111">CHD</text>
<text class="s" x="844.75" y="868.3" font-size="12" fill="#111">Control</text>
</g>
<g id="pE">
<g stroke="#a0a0a0" stroke-width="0.7">
<rect x="1006" y="828.25" width="7.79" height="11.9" fill="#d0716a"/>
<rect x="1013.79" y="828.25" width="7.79" height="11.9" fill="#d0716a"/>
<rect x="1021.58" y="828.25" width="7.79" height="11.9" fill="#d0716a"/>
<rect x="1029.37" y="828.25" width="7.79" height="11.9" fill="#d0716a"/>
<rect x="1037.16" y="828.25" width="7.79" height="11.9" fill="#d0716a"/>
<rect x="1044.94" y="828.25" width="7.79" height="11.9" fill="#d0716a"/>
<rect x="1052.73" y="828.25" width="7.79" height="11.9" fill="#d0716a"/>
<rect x="1060.52" y="828.25" width="7.79" height="11.9" fill="#d0716a"/>
<rect x="1068.31" y="828.25" width="7.79" height="11.9" fill="#d0716a"/>
<rect x="1076.1" y="828.25" width="7.79" height="11.9" fill="#d0716a"/>
<rect x="1083.89" y="828.25" width="7.79" height="11.9" fill="#d0716a"/>
<rect x="1091.68" y="828.25" width="7.79" height="11.9" fill="#d0716a"/>
<rect x="1099.47" y="828.25" width="7.79" height="11.9" fill="#d0716a"/>
<rect x="1107.26" y="828.25" width="7.79" height="11.9" fill="#d0716a"/>
<rect x="1115.05" y="828.25" width="7.79" height="11.9" fill="#d0716a"/>
<rect x="1122.83" y="828.25" width="7.79" height="11.9" fill="#d0716a"/>
<rect x="1130.62" y="828.25" width="7.79" height="11.9" fill="#d0716a"/>
<rect x="1138.41" y="828.25" width="7.79" height="11.9" fill="#d0716a"/>
<rect x="1146.2" y="828.25" width="7.79" height="11.9" fill="#d0716a"/>
<rect x="1153.99" y="828.25" width="7.79" height="11.9" fill="#d0716a"/>
<rect x="1161.78" y="828.25" width="7.79" height="11.9" fill="#5b96c9"/>
<rect x="1169.57" y="828.25" width="7.79" height="11.9" fill="#5b96c9"/>
<rect x="1177.36" y="828.25" width="7.79" height="11.9" fill="#5b96c9"/>
<rect x="1185.15" y="828.25" width="7.79" height="11.9" fill="#5b96c9"/>
<rect x="1192.94" y="828.25" width="7.79" height="11.9" fill="#5b96c9"/>
<rect x="1200.72" y="828.25" width="7.79" height="11.9" fill="#5b96c9"/>
<rect x="1208.51" y="828.25" width="7.79" height="11.9" fill="#5b96c9"/>
<rect x="1216.3" y="828.25" width="7.79" height="11.9" fill="#5b96c9"/>
<rect x="1224.09" y="828.25" width="7.79" height="11.9" fill="#5b96c9"/>
<rect x="1231.88" y="828.25" width="7.79" height="11.9" fill="#5b96c9"/>
<rect x="1239.67" y="828.25" width="7.79" height="11.9" fill="#5b96c9"/>
<rect x="1247.46" y="828.25" width="7.79" height="11.9" fill="#5b96c9"/>
<rect x="1255.25" y="828.25" width="7.79" height="11.9" fill="#5b96c9"/>
<rect x="1263.04" y="828.25" width="7.79" height="11.9" fill="#5b96c9"/>
<rect x="1270.82" y="828.25" width="7.79" height="11.9" fill="#5b96c9"/>
<rect x="1278.61" y="828.25" width="7.79" height="11.9" fill="#5b96c9"/>
<rect x="1286.4" y="828.25" width="7.79" height="11.9" fill="#5b96c9"/>
<rect x="1294.19" y="828.25" width="7.79" height="11.9" fill="#5b96c9"/>
<rect x="1301.98" y="828.25" width="7.79" height="11.9" fill="#5b96c9"/>
<rect x="1309.77" y="828.25" width="7.79" height="11.9" fill="#5b96c9"/>
<rect x="1317.56" y="828.25" width="7.79" height="11.9" fill="#5b96c9"/>
<rect x="1325.35" y="828.25" width="7.79" height="11.9" fill="#5b96c9"/>
<rect x="1333.14" y="828.25" width="7.79" height="11.9" fill="#5b96c9"/>
<rect x="1340.93" y="828.25" width="7.79" height="11.9" fill="#5b96c9"/>
<rect x="1348.71" y="828.25" width="7.79" height="11.9" fill="#5b96c9"/>
<rect x="1356.5" y="828.25" width="7.79" height="11.9" fill="#5b96c9"/>
<rect x="1364.29" y="828.25" width="7.79" height="11.9" fill="#5b96c9"/>
<rect x="1372.08" y="828.25" width="7.79" height="11.9" fill="#5b96c9"/>
<rect x="1379.87" y="828.25" width="7.79" height="11.9" fill="#5b96c9"/>
<rect x="1387.66" y="828.25" width="7.79" height="11.9" fill="#5b96c9"/>
<rect x="1395.45" y="828.25" width="7.79" height="11.9" fill="#5b96c9"/>
<rect x="1403.24" y="828.25" width="7.79" height="11.9" fill="#5b96c9"/>
<rect x="1411.03" y="828.25" width="7.79" height="11.9" fill="#5b96c9"/>
<rect x="1418.81" y="828.25" width="7.79" height="11.9" fill="#5b96c9"/>
<rect x="1426.6" y="828.25" width="7.79" height="11.9" fill="#5b96c9"/>
<rect x="1434.39" y="828.25" width="7.79" height="11.9" fill="#5b96c9"/>
<rect x="1442.18" y="828.25" width="7.79" height="11.9" fill="#5b96c9"/>
<rect x="1449.97" y="828.25" width="7.79" height="11.9" fill="#5b96c9"/>
<rect x="1457.76" y="828.25" width="7.79" height="11.9" fill="#5b96c9"/>
<rect x="1465.55" y="828.25" width="7.79" height="11.9" fill="#5b96c9"/>
<rect x="1473.34" y="828.25" width="7.79" height="11.9" fill="#5b96c9"/>
<rect x="1481.13" y="828.25" width="7.79" height="11.9" fill="#5b96c9"/>
<rect x="1488.92" y="828.25" width="7.79" height="11.9" fill="#5b96c9"/>
<rect x="1496.7" y="828.25" width="7.79" height="11.9" fill="#5b96c9"/>
<rect x="1504.49" y="828.25" width="7.79" height="11.9" fill="#5b96c9"/>
<rect x="1512.28" y="828.25" width="7.79" height="11.9" fill="#5b96c9"/>
<rect x="1520.07" y="828.25" width="7.79" height="11.9" fill="#5b96c9"/>
<rect x="1527.86" y="828.25" width="7.79" height="11.9" fill="#5b96c9"/>
<rect x="1535.65" y="828.25" width="7.79" height="11.9" fill="#5b96c9"/>
<rect x="1543.44" y="828.25" width="7.79" height="11.9" fill="#5b96c9"/>
<rect x="1551.23" y="828.25" width="7.79" height="11.9" fill="#5b96c9"/>
<rect x="1559.02" y="828.25" width="7.79" height="11.9" fill="#5b96c9"/>
<rect x="1566.81" y="828.25" width="7.79" height="11.9" fill="#5b96c9"/>
<rect x="1574.59" y="828.25" width="7.79" height="11.9" fill="#5b96c9"/>
<rect x="1582.38" y="828.25" width="7.79" height="11.9" fill="#5b96c9"/>
<rect x="1590.17" y="828.25" width="7.79" height="11.9" fill="#5b96c9"/>
<rect x="1597.96" y="828.25" width="7.79" height="11.9" fill="#5b96c9"/>
<rect x="1006" y="843.25" width="7.79" height="76.25" fill="#f1d5d3"/>
<rect x="1013.79" y="843.25" width="7.79" height="76.25" fill="#f1d5d3"/>
<rect x="1021.58" y="843.25" width="7.79" height="76.25" fill="#f1d5d3"/>
<rect x="1029.37" y="843.25" width="7.79" height="76.25" fill="#f1d5d3"/>
<rect x="1037.16" y="843.25" width="7.79" height="76.25" fill="#f1d5d3"/>
<rect x="1044.94" y="843.25" width="7.79" height="76.25" fill="#f1d5d3"/>
<rect x="1052.73" y="843.25" width="7.79" height="76.25" fill="#f1d5d3"/>
<rect x="1060.52" y="843.25" width="7.79" height="76.25" fill="#f1d5d3"/>
<rect x="1068.31" y="843.25" width="7.79" height="76.25" fill="#f1d5d3"/>
<rect x="1076.1" y="843.25" width="7.79" height="76.25" fill="#f1d5d3"/>
<rect x="1083.89" y="843.25" width="7.79" height="76.25" fill="#accae5"/>
<rect x="1091.68" y="843.25" width="7.79" height="76.25" fill="#accae5"/>
<rect x="1099.47" y="843.25" width="7.79" height="76.25" fill="#accae5"/>
<rect x="1107.26" y="843.25" width="7.79" height="76.25" fill="#accae5"/>
<rect x="1115.05" y="843.25" width="7.79" height="76.25" fill="#accae5"/>
<rect x="1122.83" y="843.25" width="7.79" height="76.25" fill="#accae5"/>
<rect x="1130.62" y="843.25" width="7.79" height="76.25" fill="#accae5"/>
<rect x="1138.41" y="843.25" width="7.79" height="76.25" fill="#accae5"/>
<rect x="1146.2" y="843.25" width="7.79" height="76.25" fill="#accae5"/>
<rect x="1153.99" y="843.25" width="7.79" height="76.25" fill="#accae5"/>
<rect x="1161.78" y="843.25" width="7.79" height="76.25" fill="#f1d5d3"/>
<rect x="1169.57" y="843.25" width="7.79" height="76.25" fill="#f1d5d3"/>
<rect x="1177.36" y="843.25" width="7.79" height="76.25" fill="#f1d5d3"/>
<rect x="1185.15" y="843.25" width="7.79" height="76.25" fill="#f1d5d3"/>
<rect x="1192.94" y="843.25" width="7.79" height="76.25" fill="#f1d5d3"/>
<rect x="1200.72" y="843.25" width="7.79" height="76.25" fill="#f1d5d3"/>
<rect x="1208.51" y="843.25" width="7.79" height="76.25" fill="#f1d5d3"/>
<rect x="1216.3" y="843.25" width="7.79" height="76.25" fill="#f1d5d3"/>
<rect x="1224.09" y="843.25" width="7.79" height="76.25" fill="#f1d5d3"/>
<rect x="1231.88" y="843.25" width="7.79" height="76.25" fill="#f1d5d3"/>
<rect x="1239.67" y="843.25" width="7.79" height="76.25" fill="#f1d5d3"/>
<rect x="1247.46" y="843.25" width="7.79" height="76.25" fill="#f1d5d3"/>
<rect x="1255.25" y="843.25" width="7.79" height="76.25" fill="#f1d5d3"/>
<rect x="1263.04" y="843.25" width="7.79" height="76.25" fill="#f1d5d3"/>
<rect x="1270.82" y="843.25" width="7.79" height="76.25" fill="#f1d5d3"/>
<rect x="1278.61" y="843.25" width="7.79" height="76.25" fill="#f1d5d3"/>
<rect x="1286.4" y="843.25" width="7.79" height="76.25" fill="#f1d5d3"/>
<rect x="1294.19" y="843.25" width="7.79" height="76.25" fill="#f1d5d3"/>
<rect x="1301.98" y="843.25" width="7.79" height="76.25" fill="#f1d5d3"/>
<rect x="1309.77" y="843.25" width="7.79" height="76.25" fill="#f1d5d3"/>
<rect x="1317.56" y="843.25" width="7.79" height="76.25" fill="#f1d5d3"/>
<rect x="1325.35" y="843.25" width="7.79" height="76.25" fill="#f1d5d3"/>
<rect x="1333.14" y="843.25" width="7.79" height="76.25" fill="#f1d5d3"/>
<rect x="1340.93" y="843.25" width="7.79" height="76.25" fill="#f1d5d3"/>
<rect x="1348.71" y="843.25" width="7.79" height="76.25" fill="#f1d5d3"/>
<rect x="1356.5" y="843.25" width="7.79" height="76.25" fill="#f1d5d3"/>
<rect x="1364.29" y="843.25" width="7.79" height="76.25" fill="#f1d5d3"/>
<rect x="1372.08" y="843.25" width="7.79" height="76.25" fill="#f1d5d3"/>
<rect x="1379.87" y="843.25" width="7.79" height="76.25" fill="#f1d5d3"/>
<rect x="1387.66" y="843.25" width="7.79" height="76.25" fill="#f1d5d3"/>
<rect x="1395.45" y="843.25" width="7.79" height="76.25" fill="#f1d5d3"/>
<rect x="1403.24" y="843.25" width="7.79" height="76.25" fill="#f1d5d3"/>
<rect x="1411.03" y="843.25" width="7.79" height="76.25" fill="#f1d5d3"/>
<rect x="1418.81" y="843.25" width="7.79" height="76.25" fill="#f1d5d3"/>
<rect x="1426.6" y="843.25" width="7.79" height="76.25" fill="#f1d5d3"/>
<rect x="1434.39" y="843.25" width="7.79" height="76.25" fill="#f1d5d3"/>
<rect x="1442.18" y="843.25" width="7.79" height="76.25" fill="#f1d5d3"/>
<rect x="1449.97" y="843.25" width="7.79" height="76.25" fill="#f1d5d3"/>
<rect x="1457.76" y="843.25" width="7.79" height="76.25" fill="#b5d0e8"/>
<rect x="1465.55" y="843.25" width="7.79" height="76.25" fill="#b5d0e8"/>
<rect x="1473.34" y="843.25" width="7.79" height="76.25" fill="#b5d0e8"/>
<rect x="1481.13" y="843.25" width="7.79" height="76.25" fill="#b5d0e8"/>
<rect x="1488.92" y="843.25" width="7.79" height="76.25" fill="#b5d0e8"/>
<rect x="1496.7" y="843.25" width="7.79" height="76.25" fill="#b5d0e8"/>
<rect x="1504.49" y="843.25" width="7.79" height="76.25" fill="#b5d0e8"/>
<rect x="1512.28" y="843.25" width="7.79" height="76.25" fill="#b5d0e8"/>
<rect x="1520.07" y="843.25" width="7.79" height="76.25" fill="#b5d0e8"/>
<rect x="1527.86" y="843.25" width="7.79" height="76.25" fill="#b5d0e8"/>
<rect x="1535.65" y="843.25" width="7.79" height="76.25" fill="#b5d0e8"/>
<rect x="1543.44" y="843.25" width="7.79" height="76.25" fill="#b5d0e8"/>
<rect x="1551.23" y="843.25" width="7.79" height="76.25" fill="#b5d0e8"/>
<rect x="1559.02" y="843.25" width="7.79" height="76.25" fill="#b5d0e8"/>
<rect x="1566.81" y="843.25" width="7.79" height="76.25" fill="#b5d0e8"/>
<rect x="1574.59" y="843.25" width="7.79" height="76.25" fill="#b5d0e8"/>
<rect x="1582.38" y="843.25" width="7.79" height="76.25" fill="#b5d0e8"/>
<rect x="1590.17" y="843.25" width="7.79" height="76.25" fill="#b5d0e8"/>
<rect x="1597.96" y="843.25" width="7.79" height="76.25" fill="#b5d0e8"/>
<rect x="1006" y="919.5" width="7.79" height="76.25" fill="#c0d7eb"/>
<rect x="1013.79" y="919.5" width="7.79" height="76.25" fill="#ffffff"/>
<rect x="1021.58" y="919.5" width="7.79" height="76.25" fill="#a7c7e3"/>
<rect x="1029.37" y="919.5" width="7.79" height="76.25" fill="#efcdca"/>
<rect x="1037.16" y="919.5" width="7.79" height="76.25" fill="#ffffff"/>
<rect x="1044.94" y="919.5" width="7.79" height="76.25" fill="#e7b5b0"/>
<rect x="1052.73" y="919.5" width="7.79" height="76.25" fill="#c0d7eb"/>
<rect x="1060.52" y="919.5" width="7.79" height="76.25" fill="#e1ecf5"/>
<rect x="1068.31" y="919.5" width="7.79" height="76.25" fill="#ffffff"/>
<rect x="1076.1" y="919.5" width="7.79" height="76.25" fill="#c0d7eb"/>
<rect x="1083.89" y="919.5" width="7.79" height="76.25" fill="#e1ecf5"/>
<rect x="1091.68" y="919.5" width="7.79" height="76.25" fill="#e1ecf5"/>
<rect x="1099.47" y="919.5" width="7.79" height="76.25" fill="#d7857e"/>
<rect x="1107.26" y="919.5" width="7.79" height="76.25" fill="#e1ecf5"/>
<rect x="1115.05" y="919.5" width="7.79" height="76.25" fill="#e1ecf5"/>
<rect x="1122.83" y="919.5" width="7.79" height="76.25" fill="#c0d7eb"/>
<rect x="1130.62" y="919.5" width="7.79" height="76.25" fill="#c0d7eb"/>
<rect x="1138.41" y="919.5" width="7.79" height="76.25" fill="#e1ecf5"/>
<rect x="1146.2" y="919.5" width="7.79" height="76.25" fill="#e1ecf5"/>
<rect x="1153.99" y="919.5" width="7.79" height="76.25" fill="#e1ecf5"/>
<rect x="1161.78" y="919.5" width="7.79" height="76.25" fill="#c0d7eb"/>
<rect x="1169.57" y="919.5" width="7.79" height="76.25" fill="#e7b5b0"/>
<rect x="1177.36" y="919.5" width="7.79" height="76.25" fill="#efcdca"/>
<rect x="1185.15" y="919.5" width="7.79" height="76.25" fill="#e7b5b0"/>
<rect x="1192.94" y="919.5" width="7.79" height="76.25" fill="#c0d7eb"/>
<rect x="1200.72" y="919.5" width="7.79" height="76.25" fill="#f7e7e6"/>
<rect x="1208.51" y="919.5" width="7.79" height="76.25" fill="#a7c7e3"/>
<rect x="1216.3" y="919.5" width="7.79" height="76.25" fill="#efcdca"/>
<rect x="1224.09" y="919.5" width="7.79" height="76.25" fill="#ffffff"/>
<rect x="1231.88" y="919.5" width="7.79" height="76.25" fill="#ffffff"/>
<rect x="1239.67" y="919.5" width="7.79" height="76.25" fill="#ffffff"/>
<rect x="1247.46" y="919.5" width="7.79" height="76.25" fill="#f7e7e6"/>
<rect x="1255.25" y="919.5" width="7.79" height="76.25" fill="#e1ecf5"/>
<rect x="1263.04" y="919.5" width="7.79" height="76.25" fill="#ffffff"/>
<rect x="1270.82" y="919.5" width="7.79" height="76.25" fill="#ffffff"/>
<rect x="1278.61" y="919.5" width="7.79" height="76.25" fill="#ffffff"/>
<rect x="1286.4" y="919.5" width="7.79" height="76.25" fill="#e1ecf5"/>
<rect x="1294.19" y="919.5" width="7.79" height="76.25" fill="#e7b5b0"/>
<rect x="1301.98" y="919.5" width="7.79" height="76.25" fill="#efcdca"/>
<rect x="1309.77" y="919.5" width="7.79" height="76.25" fill="#ffffff"/>
<rect x="1317.56" y="919.5" width="7.79" height="76.25" fill="#e7b5b0"/>
<rect x="1325.35" y="919.5" width="7.79" height="76.25" fill="#efcdca"/>
<rect x="1333.14" y="919.5" width="7.79" height="76.25" fill="#d7857e"/>
<rect x="1340.93" y="919.5" width="7.79" height="76.25" fill="#f7e7e6"/>
<rect x="1348.71" y="919.5" width="7.79" height="76.25" fill="#ffffff"/>
<rect x="1356.5" y="919.5" width="7.79" height="76.25" fill="#f7e7e6"/>
<rect x="1364.29" y="919.5" width="7.79" height="76.25" fill="#efcdca"/>
<rect x="1372.08" y="919.5" width="7.79" height="76.25" fill="#de9a95"/>
<rect x="1379.87" y="919.5" width="7.79" height="76.25" fill="#ffffff"/>
<rect x="1387.66" y="919.5" width="7.79" height="76.25" fill="#c0d7eb"/>
<rect x="1395.45" y="919.5" width="7.79" height="76.25" fill="#efcdca"/>
<rect x="1403.24" y="919.5" width="7.79" height="76.25" fill="#f7e7e6"/>
<rect x="1411.03" y="919.5" width="7.79" height="76.25" fill="#e7b5b0"/>
<rect x="1418.81" y="919.5" width="7.79" height="76.25" fill="#efcdca"/>
<rect x="1426.6" y="919.5" width="7.79" height="76.25" fill="#e1ecf5"/>
<rect x="1434.39" y="919.5" width="7.79" height="76.25" fill="#f7e7e6"/>
<rect x="1442.18" y="919.5" width="7.79" height="76.25" fill="#ffffff"/>
<rect x="1449.97" y="919.5" width="7.79" height="76.25" fill="#e1ecf5"/>
<rect x="1457.76" y="919.5" width="7.79" height="76.25" fill="#e1ecf5"/>
<rect x="1465.55" y="919.5" width="7.79" height="76.25" fill="#ffffff"/>
<rect x="1473.34" y="919.5" width="7.79" height="76.25" fill="#a7c7e3"/>
<rect x="1481.13" y="919.5" width="7.79" height="76.25" fill="#ffffff"/>
<rect x="1488.92" y="919.5" width="7.79" height="76.25" fill="#e1ecf5"/>
<rect x="1496.7" y="919.5" width="7.79" height="76.25" fill="#a7c7e3"/>
<rect x="1504.49" y="919.5" width="7.79" height="76.25" fill="#e1ecf5"/>
<rect x="1512.28" y="919.5" width="7.79" height="76.25" fill="#e1ecf5"/>
<rect x="1520.07" y="919.5" width="7.79" height="76.25" fill="#f7e7e6"/>
<rect x="1527.86" y="919.5" width="7.79" height="76.25" fill="#5a96cb"/>
<rect x="1535.65" y="919.5" width="7.79" height="76.25" fill="#a7c7e3"/>
<rect x="1543.44" y="919.5" width="7.79" height="76.25" fill="#efcdca"/>
<rect x="1551.23" y="919.5" width="7.79" height="76.25" fill="#ffffff"/>
<rect x="1559.02" y="919.5" width="7.79" height="76.25" fill="#86b2d9"/>
<rect x="1566.81" y="919.5" width="7.79" height="76.25" fill="#efcdca"/>
<rect x="1574.59" y="919.5" width="7.79" height="76.25" fill="#c0d7eb"/>
<rect x="1582.38" y="919.5" width="7.79" height="76.25" fill="#e1ecf5"/>
<rect x="1590.17" y="919.5" width="7.79" height="76.25" fill="#e1ecf5"/>
<rect x="1597.96" y="919.5" width="7.79" height="76.25" fill="#ffffff"/>
<rect x="1006" y="995.75" width="7.79" height="76.25" fill="#efcdca"/>
<rect x="1013.79" y="995.75" width="7.79" height="76.25" fill="#e1ecf5"/>
<rect x="1021.58" y="995.75" width="7.79" height="76.25" fill="#efcdca"/>
<rect x="1029.37" y="995.75" width="7.79" height="76.25" fill="#e1ecf5"/>
<rect x="1037.16" y="995.75" width="7.79" height="76.25" fill="#c0d7eb"/>
<rect x="1044.94" y="995.75" width="7.79" height="76.25" fill="#efcdca"/>
<rect x="1052.73" y="995.75" width="7.79" height="76.25" fill="#e1ecf5"/>
<rect x="1060.52" y="995.75" width="7.79" height="76.25" fill="#e1ecf5"/>
<rect x="1068.31" y="995.75" width="7.79" height="76.25" fill="#e1ecf5"/>
<rect x="1076.1" y="995.75" width="7.79" height="76.25" fill="#e1ecf5"/>
<rect x="1083.89" y="995.75" width="7.79" height="76.25" fill="#ffffff"/>
<rect x="1091.68" y="995.75" width="7.79" height="76.25" fill="#a7c7e3"/>
<rect x="1099.47" y="995.75" width="7.79" height="76.25" fill="#e1ecf5"/>
<rect x="1107.26" y="995.75" width="7.79" height="76.25" fill="#e1ecf5"/>
<rect x="1115.05" y="995.75" width="7.79" height="76.25" fill="#a7c7e3"/>
<rect x="1122.83" y="995.75" width="7.79" height="76.25" fill="#e1ecf5"/>
<rect x="1130.62" y="995.75" width="7.79" height="76.25" fill="#a7c7e3"/>
<rect x="1138.41" y="995.75" width="7.79" height="76.25" fill="#86b2d9"/>
<rect x="1146.2" y="995.75" width="7.79" height="76.25" fill="#ffffff"/>
<rect x="1153.99" y="995.75" width="7.79" height="76.25" fill="#ffffff"/>
<rect x="1161.78" y="995.75" width="7.79" height="76.25" fill="#f7e7e6"/>
<rect x="1169.57" y="995.75" width="7.79" height="76.25" fill="#e7b5b0"/>
<rect x="1177.36" y="995.75" width="7.79" height="76.25" fill="#efcdca"/>
<rect x="1185.15" y="995.75" width="7.79" height="76.25" fill="#e7b5b0"/>
<rect x="1192.94" y="995.75" width="7.79" height="76.25" fill="#efcdca"/>
<rect x="1200.72" y="995.75" width="7.79" height="76.25" fill="#e7b5b0"/>
<rect x="1208.51" y="995.75" width="7.79" height="76.25" fill="#f7e7e6"/>
<rect x="1216.3" y="995.75" width="7.79" height="76.25" fill="#e7b5b0"/>
<rect x="1224.09" y="995.75" width="7.79" height="76.25" fill="#efcdca"/>
<rect x="1231.88" y="995.75" width="7.79" height="76.25" fill="#f7e7e6"/>
<rect x="1239.67" y="995.75" width="7.79" height="76.25" fill="#e1ecf5"/>
<rect x="1247.46" y="995.75" width="7.79" height="76.25" fill="#e7b5b0"/>
<rect x="1255.25" y="995.75" width="7.79" height="76.25" fill="#e1ecf5"/>
<rect x="1263.04" y="995.75" width="7.79" height="76.25" fill="#e7b5b0"/>
<rect x="1270.82" y="995.75" width="7.79" height="76.25" fill="#e7b5b0"/>
<rect x="1278.61" y="995.75" width="7.79" height="76.25" fill="#e7b5b0"/>
<rect x="1286.4" y="995.75" width="7.79" height="76.25" fill="#ffffff"/>
<rect x="1294.19" y="995.75" width="7.79" height="76.25" fill="#efcdca"/>
<rect x="1301.98" y="995.75" width="7.79" height="76.25" fill="#efcdca"/>
<rect x="1309.77" y="995.75" width="7.79" height="76.25" fill="#e1ecf5"/>
<rect x="1317.56" y="995.75" width="7.79" height="76.25" fill="#efcdca"/>
<rect x="1325.35" y="995.75" width="7.79" height="76.25" fill="#a7c7e3"/>
<rect x="1333.14" y="995.75" width="7.79" height="76.25" fill="#c0d7eb"/>
<rect x="1340.93" y="995.75" width="7.79" height="76.25" fill="#e1ecf5"/>
<rect x="1348.71" y="995.75" width="7.79" height="76.25" fill="#c0d7eb"/>
<rect x="1356.5" y="995.75" width="7.79" height="76.25" fill="#e1ecf5"/>
<rect x="1364.29" y="995.75" width="7.79" height="76.25" fill="#ffffff"/>
<rect x="1372.08" y="995.75" width="7.79" height="76.25" fill="#de9a95"/>
<rect x="1379.87" y="995.75" width="7.79" height="76.25" fill="#ffffff"/>
<rect x="1387.66" y="995.75" width="7.79" height="76.25" fill="#e1ecf5"/>
<rect x="1395.45" y="995.75" width="7.79" height="76.25" fill="#efcdca"/>
<rect x="1403.24" y="995.75" width="7.79" height="76.25" fill="#e1ecf5"/>
<rect x="1411.03" y="995.75" width="7.79" height="76.25" fill="#efcdca"/>
<rect x="1418.81" y="995.75" width="7.79" height="76.25" fill="#e7b5b0"/>
<rect x="1426.6" y="995.75" width="7.79" height="76.25" fill="#e1ecf5"/>
<rect x="1434.39" y="995.75" width="7.79" height="76.25" fill="#ffffff"/>
<rect x="1442.18" y="995.75" width="7.79" height="76.25" fill="#86b2d9"/>
<rect x="1449.97" y="995.75" width="7.79" height="76.25" fill="#ffffff"/>
<rect x="1457.76" y="995.75" width="7.79" height="76.25" fill="#a7c7e3"/>
<rect x="1465.55" y="995.75" width="7.79" height="76.25" fill="#efcdca"/>
<rect x="1473.34" y="995.75" width="7.79" height="76.25" fill="#e1ecf5"/>
<rect x="1481.13" y="995.75" width="7.79" height="76.25" fill="#efcdca"/>
<rect x="1488.92" y="995.75" width="7.79" height="76.25" fill="#efcdca"/>
<rect x="1496.7" y="995.75" width="7.79" height="76.25" fill="#e1ecf5"/>
<rect x="1504.49" y="995.75" width="7.79" height="76.25" fill="#ffffff"/>
<rect x="1512.28" y="995.75" width="7.79" height="76.25" fill="#ffffff"/>
<rect x="1520.07" y="995.75" width="7.79" height="76.25" fill="#e1ecf5"/>
<rect x="1527.86" y="995.75" width="7.79" height="76.25" fill="#c0d7eb"/>
<rect x="1535.65" y="995.75" width="7.79" height="76.25" fill="#c0d7eb"/>
<rect x="1543.44" y="995.75" width="7.79" height="76.25" fill="#c0d7eb"/>
<rect x="1551.23" y="995.75" width="7.79" height="76.25" fill="#c0d7eb"/>
<rect x="1559.02" y="995.75" width="7.79" height="76.25" fill="#5a96cb"/>
<rect x="1566.81" y="995.75" width="7.79" height="76.25" fill="#f7e7e6"/>
<rect x="1574.59" y="995.75" width="7.79" height="76.25" fill="#ffffff"/>
<rect x="1582.38" y="995.75" width="7.79" height="76.25" fill="#ffffff"/>
<rect x="1590.17" y="995.75" width="7.79" height="76.25" fill="#e1ecf5"/>
<rect x="1597.96" y="995.75" width="7.79" height="76.25" fill="#efcdca"/>
<rect x="1006" y="1072" width="7.79" height="76.25" fill="#ffffff"/>
<rect x="1013.79" y="1072" width="7.79" height="76.25" fill="#efcdca"/>
<rect x="1021.58" y="1072" width="7.79" height="76.25" fill="#d1716a"/>
<rect x="1029.37" y="1072" width="7.79" height="76.25" fill="#e1ecf5"/>
<rect x="1037.16" y="1072" width="7.79" height="76.25" fill="#e1ecf5"/>
<rect x="1044.94" y="1072" width="7.79" height="76.25" fill="#a7c7e3"/>
<rect x="1052.73" y="1072" width="7.79" height="76.25" fill="#a7c7e3"/>
<rect x="1060.52" y="1072" width="7.79" height="76.25" fill="#e1ecf5"/>
<rect x="1068.31" y="1072" width="7.79" height="76.25" fill="#86b2d9"/>
<rect x="1076.1" y="1072" width="7.79" height="76.25" fill="#86b2d9"/>
<rect x="1083.89" y="1072" width="7.79" height="76.25" fill="#c0d7eb"/>
<rect x="1091.68" y="1072" width="7.79" height="76.25" fill="#e1ecf5"/>
<rect x="1099.47" y="1072" width="7.79" height="76.25" fill="#f7e7e6"/>
<rect x="1107.26" y="1072" width="7.79" height="76.25" fill="#f7e7e6"/>
<rect x="1115.05" y="1072" width="7.79" height="76.25" fill="#ffffff"/>
<rect x="1122.83" y="1072" width="7.79" height="76.25" fill="#ffffff"/>
<rect x="1130.62" y="1072" width="7.79" height="76.25" fill="#a7c7e3"/>
<rect x="1138.41" y="1072" width="7.79" height="76.25" fill="#a7c7e3"/>
<rect x="1146.2" y="1072" width="7.79" height="76.25" fill="#f7e7e6"/>
<rect x="1153.99" y="1072" width="7.79" height="76.25" fill="#e1ecf5"/>
<rect x="1161.78" y="1072" width="7.79" height="76.25" fill="#e1ecf5"/>
<rect x="1169.57" y="1072" width="7.79" height="76.25" fill="#efcdca"/>
<rect x="1177.36" y="1072" width="7.79" height="76.25" fill="#e1ecf5"/>
<rect x="1185.15" y="1072" width="7.79" height="76.25" fill="#efcdca"/>
<rect x="1192.94" y="1072" width="7.79" height="76.25" fill="#e1ecf5"/>
<rect x="1200.72" y="1072" width="7.79" height="76.25" fill="#e7b5b0"/>
<rect x="1208.51" y="1072" width="7.79" height="76.25" fill="#efcdca"/>
<rect x="1216.3" y="1072" width="7.79" height="76.25" fill="#e1ecf5"/>
<rect x="1224.09" y="1072" width="7.79" height="76.25" fill="#ffffff"/>
<rect x="1231.88" y="1072" width="7.79" height="76.25" fill="#c0d7eb"/>
<rect x="1239.67" y="1072" width="7.79" height="76.25" fill="#ffffff"/>
<rect x="1247.46" y="1072" width="7.79" height="76.25" fill="#f7e7e6"/>
<rect x="1255.25" y="1072" width="7.79" height="76.25" fill="#f7e7e6"/>
<rect x="1263.04" y="1072" width="7.79" height="76.25" fill="#ffffff"/>
<rect x="1270.82" y="1072" width="7.79" height="76.25" fill="#f7e7e6"/>
<rect x="1278.61" y="1072" width="7.79" height="76.25" fill="#efcdca"/>
<rect x="1286.4" y="1072" width="7.79" height="76.25" fill="#f7e7e6"/>
<rect x="1294.19" y="1072" width="7.79" height="76.25" fill="#f7e7e6"/>
<rect x="1301.98" y="1072" width="7.79" height="76.25" fill="#f7e7e6"/>
<rect x="1309.77" y="1072" width="7.79" height="76.25" fill="#f7e7e6"/>
<rect x="1317.56" y="1072" width="7.79" height="76.25" fill="#ffffff"/>
<rect x="1325.35" y="1072" width="7.79" height="76.25" fill="#ffffff"/>
<rect x="1333.14" y="1072" width="7.79" height="76.25" fill="#a7c7e3"/>
<rect x="1340.93" y="1072" width="7.79" height="76.25" fill="#f7e7e6"/>
<rect x="1348.71" y="1072" width="7.79" height="76.25" fill="#e1ecf5"/>
<rect x="1356.5" y="1072" width="7.79" height="76.25" fill="#f7e7e6"/>
<rect x="1364.29" y="1072" width="7.79" height="76.25" fill="#e1ecf5"/>
<rect x="1372.08" y="1072" width="7.79" height="76.25" fill="#c0d7eb"/>
<rect x="1379.87" y="1072" width="7.79" height="76.25" fill="#c0d7eb"/>
<rect x="1387.66" y="1072" width="7.79" height="76.25" fill="#d1716a"/>
<rect x="1395.45" y="1072" width="7.79" height="76.25" fill="#ffffff"/>
<rect x="1403.24" y="1072" width="7.79" height="76.25" fill="#e1ecf5"/>
<rect x="1411.03" y="1072" width="7.79" height="76.25" fill="#c0d7eb"/>
<rect x="1418.81" y="1072" width="7.79" height="76.25" fill="#c0d7eb"/>
<rect x="1426.6" y="1072" width="7.79" height="76.25" fill="#e1ecf5"/>
<rect x="1434.39" y="1072" width="7.79" height="76.25" fill="#c0d7eb"/>
<rect x="1442.18" y="1072" width="7.79" height="76.25" fill="#c0d7eb"/>
<rect x="1449.97" y="1072" width="7.79" height="76.25" fill="#a7c7e3"/>
<rect x="1457.76" y="1072" width="7.79" height="76.25" fill="#f7e7e6"/>
<rect x="1465.55" y="1072" width="7.79" height="76.25" fill="#e7b5b0"/>
<rect x="1473.34" y="1072" width="7.79" height="76.25" fill="#f7e7e6"/>
<rect x="1481.13" y="1072" width="7.79" height="76.25" fill="#f7e7e6"/>
<rect x="1488.92" y="1072" width="7.79" height="76.25" fill="#efcdca"/>
<rect x="1496.7" y="1072" width="7.79" height="76.25" fill="#f7e7e6"/>
<rect x="1504.49" y="1072" width="7.79" height="76.25" fill="#f7e7e6"/>
<rect x="1512.28" y="1072" width="7.79" height="76.25" fill="#e1ecf5"/>
<rect x="1520.07" y="1072" width="7.79" height="76.25" fill="#e1ecf5"/>
<rect x="1527.86" y="1072" width="7.79" height="76.25" fill="#efcdca"/>
<rect x="1535.65" y="1072" width="7.79" height="76.25" fill="#efcdca"/>
<rect x="1543.44" y="1072" width="7.79" height="76.25" fill="#e1ecf5"/>
<rect x="1551.23" y="1072" width="7.79" height="76.25" fill="#c0d7eb"/>
<rect x="1559.02" y="1072" width="7.79" height="76.25" fill="#ffffff"/>
<rect x="1566.81" y="1072" width="7.79" height="76.25" fill="#ffffff"/>
<rect x="1574.59" y="1072" width="7.79" height="76.25" fill="#e7b5b0"/>
<rect x="1582.38" y="1072" width="7.79" height="76.25" fill="#efcdca"/>
<rect x="1590.17" y="1072" width="7.79" height="76.25" fill="#ffffff"/>
<rect x="1597.96" y="1072" width="7.79" height="76.25" fill="#f7e7e6"/>
<rect x="1006" y="1148.25" width="7.79" height="76.25" fill="#e7b5b0"/>
<rect x="1013.79" y="1148.25" width="7.79" height="76.25" fill="#efcdca"/>
<rect x="1021.58" y="1148.25" width="7.79" height="76.25" fill="#de9a95"/>
<rect x="1029.37" y="1148.25" width="7.79" height="76.25" fill="#de9a95"/>
<rect x="1037.16" y="1148.25" width="7.79" height="76.25" fill="#e1ecf5"/>
<rect x="1044.94" y="1148.25" width="7.79" height="76.25" fill="#efcdca"/>
<rect x="1052.73" y="1148.25" width="7.79" height="76.25" fill="#efcdca"/>
<rect x="1060.52" y="1148.25" width="7.79" height="76.25" fill="#ffffff"/>
<rect x="1068.31" y="1148.25" width="7.79" height="76.25" fill="#e1ecf5"/>
<rect x="1076.1" y="1148.25" width="7.79" height="76.25" fill="#efcdca"/>
<rect x="1083.89" y="1148.25" width="7.79" height="76.25" fill="#ffffff"/>
<rect x="1091.68" y="1148.25" width="7.79" height="76.25" fill="#f7e7e6"/>
<rect x="1099.47" y="1148.25" width="7.79" height="76.25" fill="#e1ecf5"/>
<rect x="1107.26" y="1148.25" width="7.79" height="76.25" fill="#f7e7e6"/>
<rect x="1115.05" y="1148.25" width="7.79" height="76.25" fill="#e1ecf5"/>
<rect x="1122.83" y="1148.25" width="7.79" height="76.25" fill="#e1ecf5"/>
<rect x="1130.62" y="1148.25" width="7.79" height="76.25" fill="#ffffff"/>
<rect x="1138.41" y="1148.25" width="7.79" height="76.25" fill="#ffffff"/>
<rect x="1146.2" y="1148.25" width="7.79" height="76.25" fill="#ffffff"/>
<rect x="1153.99" y="1148.25" width="7.79" height="76.25" fill="#efcdca"/>
<rect x="1161.78" y="1148.25" width="7.79" height="76.25" fill="#a7c7e3"/>
<rect x="1169.57" y="1148.25" width="7.79" height="76.25" fill="#c0d7eb"/>
<rect x="1177.36" y="1148.25" width="7.79" height="76.25" fill="#efcdca"/>
<rect x="1185.15" y="1148.25" width="7.79" height="76.25" fill="#ffffff"/>
<rect x="1192.94" y="1148.25" width="7.79" height="76.25" fill="#e1ecf5"/>
<rect x="1200.72" y="1148.25" width="7.79" height="76.25" fill="#efcdca"/>
<rect x="1208.51" y="1148.25" width="7.79" height="76.25" fill="#a7c7e3"/>
<rect x="1216.3" y="1148.25" width="7.79" height="76.25" fill="#e1ecf5"/>
<rect x="1224.09" y="1148.25" width="7.79" height="76.25" fill="#f7e7e6"/>
<rect x="1231.88" y="1148.25" width="7.79" height="76.25" fill="#e7b5b0"/>
<rect x="1239.67" y="1148.25" width="7.79" height="76.25" fill="#d7857e"/>
<rect x="1247.46" y="1148.25" width="7.79" height="76.25" fill="#de9a95"/>
<rect x="1255.25" y="1148.25" width="7.79" height="76.25" fill="#ffffff"/>
<rect x="1263.04" y="1148.25" width="7.79" height="76.25" fill="#ffffff"/>
<rect x="1270.82" y="1148.25" width="7.79" height="76.25" fill="#f7e7e6"/>
<rect x="1278.61" y="1148.25" width="7.79" height="76.25" fill="#de9a95"/>
<rect x="1286.4" y="1148.25" width="7.79" height="76.25" fill="#efcdca"/>
<rect x="1294.19" y="1148.25" width="7.79" height="76.25" fill="#e1ecf5"/>
<rect x="1301.98" y="1148.25" width="7.79" height="76.25" fill="#c0d7eb"/>
<rect x="1309.77" y="1148.25" width="7.79" height="76.25" fill="#c0d7eb"/>
<rect x="1317.56" y="1148.25" width="7.79" height="76.25" fill="#c0d7eb"/>
<rect x="1325.35" y="1148.25" width="7.79" height="76.25" fill="#c0d7eb"/>
<rect x="1333.14" y="1148.25" width="7.79" height="76.25" fill="#a7c7e3"/>
<rect x="1340.93" y="1148.25" width="7.79" height="76.25" fill="#f7e7e6"/>
<rect x="1348.71" y="1148.25" width="7.79" height="76.25" fill="#e1ecf5"/>
<rect x="1356.5" y="1148.25" width="7.79" height="76.25" fill="#e1ecf5"/>
<rect x="1364.29" y="1148.25" width="7.79" height="76.25" fill="#c0d7eb"/>
<rect x="1372.08" y="1148.25" width="7.79" height="76.25" fill="#f7e7e6"/>
<rect x="1379.87" y="1148.25" width="7.79" height="76.25" fill="#ffffff"/>
<rect x="1387.66" y="1148.25" width="7.79" height="76.25" fill="#efcdca"/>
<rect x="1395.45" y="1148.25" width="7.79" height="76.25" fill="#ffffff"/>
<rect x="1403.24" y="1148.25" width="7.79" height="76.25" fill="#c0d7eb"/>
<rect x="1411.03" y="1148.25" width="7.79" height="76.25" fill="#c0d7eb"/>
<rect x="1418.81" y="1148.25" width="7.79" height="76.25" fill="#ffffff"/>
<rect x="1426.6" y="1148.25" width="7.79" height="76.25" fill="#c0d7eb"/>
<rect x="1434.39" y="1148.25" width="7.79" height="76.25" fill="#ffffff"/>
<rect x="1442.18" y="1148.25" width="7.79" height="76.25" fill="#e1ecf5"/>
<rect x="1449.97" y="1148.25" width="7.79" height="76.25" fill="#e7b5b0"/>
<rect x="1457.76" y="1148.25" width="7.79" height="76.25" fill="#e1ecf5"/>
<rect x="1465.55" y="1148.25" width="7.79" height="76.25" fill="#e1ecf5"/>
<rect x="1473.34" y="1148.25" width="7.79" height="76.25" fill="#ffffff"/>
<rect x="1481.13" y="1148.25" width="7.79" height="76.25" fill="#ffffff"/>
<rect x="1488.92" y="1148.25" width="7.79" height="76.25" fill="#e7b5b0"/>
<rect x="1496.7" y="1148.25" width="7.79" height="76.25" fill="#c0d7eb"/>
<rect x="1504.49" y="1148.25" width="7.79" height="76.25" fill="#a7c7e3"/>
<rect x="1512.28" y="1148.25" width="7.79" height="76.25" fill="#86b2d9"/>
<rect x="1520.07" y="1148.25" width="7.79" height="76.25" fill="#ffffff"/>
<rect x="1527.86" y="1148.25" width="7.79" height="76.25" fill="#e1ecf5"/>
<rect x="1535.65" y="1148.25" width="7.79" height="76.25" fill="#86b2d9"/>
<rect x="1543.44" y="1148.25" width="7.79" height="76.25" fill="#c0d7eb"/>
<rect x="1551.23" y="1148.25" width="7.79" height="76.25" fill="#a7c7e3"/>
<rect x="1559.02" y="1148.25" width="7.79" height="76.25" fill="#c0d7eb"/>
<rect x="1566.81" y="1148.25" width="7.79" height="76.25" fill="#ffffff"/>
<rect x="1574.59" y="1148.25" width="7.79" height="76.25" fill="#efcdca"/>
<rect x="1582.38" y="1148.25" width="7.79" height="76.25" fill="#e1ecf5"/>
<rect x="1590.17" y="1148.25" width="7.79" height="76.25" fill="#e1ecf5"/>
<rect x="1597.96" y="1148.25" width="7.79" height="76.25" fill="#efcdca"/>
<rect x="1006" y="1224.5" width="7.79" height="76.25" fill="#efcdca"/>
<rect x="1013.79" y="1224.5" width="7.79" height="76.25" fill="#de9a95"/>
<rect x="1021.58" y="1224.5" width="7.79" height="76.25" fill="#ffffff"/>
<rect x="1029.37" y="1224.5" width="7.79" height="76.25" fill="#d7857e"/>
<rect x="1037.16" y="1224.5" width="7.79" height="76.25" fill="#de9a95"/>
<rect x="1044.94" y="1224.5" width="7.79" height="76.25" fill="#c0d7eb"/>
<rect x="1052.73" y="1224.5" width="7.79" height="76.25" fill="#efcdca"/>
<rect x="1060.52" y="1224.5" width="7.79" height="76.25" fill="#e1ecf5"/>
<rect x="1068.31" y="1224.5" width="7.79" height="76.25" fill="#efcdca"/>
<rect x="1076.1" y="1224.5" width="7.79" height="76.25" fill="#efcdca"/>
<rect x="1083.89" y="1224.5" width="7.79" height="76.25" fill="#e1ecf5"/>
<rect x="1091.68" y="1224.5" width="7.79" height="76.25" fill="#efcdca"/>
<rect x="1099.47" y="1224.5" width="7.79" height="76.25" fill="#c0d7eb"/>
<rect x="1107.26" y="1224.5" width="7.79" height="76.25" fill="#f7e7e6"/>
<rect x="1115.05" y="1224.5" width="7.79" height="76.25" fill="#ffffff"/>
<rect x="1122.83" y="1224.5" width="7.79" height="76.25" fill="#e1ecf5"/>
<rect x="1130.62" y="1224.5" width="7.79" height="76.25" fill="#e7b5b0"/>
<rect x="1138.41" y="1224.5" width="7.79" height="76.25" fill="#e7b5b0"/>
<rect x="1146.2" y="1224.5" width="7.79" height="76.25" fill="#c0d7eb"/>
<rect x="1153.99" y="1224.5" width="7.79" height="76.25" fill="#de9a95"/>
<rect x="1161.78" y="1224.5" width="7.79" height="76.25" fill="#efcdca"/>
<rect x="1169.57" y="1224.5" width="7.79" height="76.25" fill="#e1ecf5"/>
<rect x="1177.36" y="1224.5" width="7.79" height="76.25" fill="#e1ecf5"/>
<rect x="1185.15" y="1224.5" width="7.79" height="76.25" fill="#a7c7e3"/>
<rect x="1192.94" y="1224.5" width="7.79" height="76.25" fill="#ffffff"/>
<rect x="1200.72" y="1224.5" width="7.79" height="76.25" fill="#f7e7e6"/>
<rect x="1208.51" y="1224.5" width="7.79" height="76.25" fill="#a7c7e3"/>
<rect x="1216.3" y="1224.5" width="7.79" height="76.25" fill="#f7e7e6"/>
<rect x="1224.09" y="1224.5" width="7.79" height="76.25" fill="#ffffff"/>
<rect x="1231.88" y="1224.5" width="7.79" height="76.25" fill="#efcdca"/>
<rect x="1239.67" y="1224.5" width="7.79" height="76.25" fill="#efcdca"/>
<rect x="1247.46" y="1224.5" width="7.79" height="76.25" fill="#efcdca"/>
<rect x="1255.25" y="1224.5" width="7.79" height="76.25" fill="#f7e7e6"/>
<rect x="1263.04" y="1224.5" width="7.79" height="76.25" fill="#c0d7eb"/>
<rect x="1270.82" y="1224.5" width="7.79" height="76.25" fill="#ffffff"/>
<rect x="1278.61" y="1224.5" width="7.79" height="76.25" fill="#f7e7e6"/>
<rect x="1286.4" y="1224.5" width="7.79" height="76.25" fill="#c0d7eb"/>
<rect x="1294.19" y="1224.5" width="7.79" height="76.25" fill="#a7c7e3"/>
<rect x="1301.98" y="1224.5" width="7.79" height="76.25" fill="#a7c7e3"/>
<rect x="1309.77" y="1224.5" width="7.79" height="76.25" fill="#efcdca"/>
<rect x="1317.56" y="1224.5" width="7.79" height="76.25" fill="#e1ecf5"/>
<rect x="1325.35" y="1224.5" width="7.79" height="76.25" fill="#e1ecf5"/>
<rect x="1333.14" y="1224.5" width="7.79" height="76.25" fill="#e1ecf5"/>
<rect x="1340.93" y="1224.5" width="7.79" height="76.25" fill="#e7b5b0"/>
<rect x="1348.71" y="1224.5" width="7.79" height="76.25" fill="#ffffff"/>
<rect x="1356.5" y="1224.5" width="7.79" height="76.25" fill="#e1ecf5"/>
<rect x="1364.29" y="1224.5" width="7.79" height="76.25" fill="#ffffff"/>
<rect x="1372.08" y="1224.5" width="7.79" height="76.25" fill="#70a4d2"/>
<rect x="1379.87" y="1224.5" width="7.79" height="76.25" fill="#c0d7eb"/>
<rect x="1387.66" y="1224.5" width="7.79" height="76.25" fill="#c0d7eb"/>
<rect x="1395.45" y="1224.5" width="7.79" height="76.25" fill="#a7c7e3"/>
<rect x="1403.24" y="1224.5" width="7.79" height="76.25" fill="#a7c7e3"/>
<rect x="1411.03" y="1224.5" width="7.79" height="76.25" fill="#e1ecf5"/>
<rect x="1418.81" y="1224.5" width="7.79" height="76.25" fill="#c0d7eb"/>
<rect x="1426.6" y="1224.5" width="7.79" height="76.25" fill="#a7c7e3"/>
<rect x="1434.39" y="1224.5" width="7.79" height="76.25" fill="#ffffff"/>
<rect x="1442.18" y="1224.5" width="7.79" height="76.25" fill="#ffffff"/>
<rect x="1449.97" y="1224.5" width="7.79" height="76.25" fill="#e1ecf5"/>
<rect x="1457.76" y="1224.5" width="7.79" height="76.25" fill="#c0d7eb"/>
<rect x="1465.55" y="1224.5" width="7.79" height="76.25" fill="#ffffff"/>
<rect x="1473.34" y="1224.5" width="7.79" height="76.25" fill="#ffffff"/>
<rect x="1481.13" y="1224.5" width="7.79" height="76.25" fill="#f7e7e6"/>
<rect x="1488.92" y="1224.5" width="7.79" height="76.25" fill="#efcdca"/>
<rect x="1496.7" y="1224.5" width="7.79" height="76.25" fill="#ffffff"/>
<rect x="1504.49" y="1224.5" width="7.79" height="76.25" fill="#a7c7e3"/>
<rect x="1512.28" y="1224.5" width="7.79" height="76.25" fill="#f7e7e6"/>
<rect x="1520.07" y="1224.5" width="7.79" height="76.25" fill="#ffffff"/>
<rect x="1527.86" y="1224.5" width="7.79" height="76.25" fill="#f7e7e6"/>
<rect x="1535.65" y="1224.5" width="7.79" height="76.25" fill="#a7c7e3"/>
<rect x="1543.44" y="1224.5" width="7.79" height="76.25" fill="#efcdca"/>
<rect x="1551.23" y="1224.5" width="7.79" height="76.25" fill="#efcdca"/>
<rect x="1559.02" y="1224.5" width="7.79" height="76.25" fill="#f7e7e6"/>
<rect x="1566.81" y="1224.5" width="7.79" height="76.25" fill="#e1ecf5"/>
<rect x="1574.59" y="1224.5" width="7.79" height="76.25" fill="#f7e7e6"/>
<rect x="1582.38" y="1224.5" width="7.79" height="76.25" fill="#e1ecf5"/>
<rect x="1590.17" y="1224.5" width="7.79" height="76.25" fill="#e1ecf5"/>
<rect x="1597.96" y="1224.5" width="7.79" height="76.25" fill="#efcdca"/>
</g>
<g stroke="#222" stroke-width="0.9" fill="none" stroke-linecap="square">
<line x1="962.75" y1="881.5" x2="1006" y2="881.5"/>
<line x1="964.75" y1="958.25" x2="1006" y2="958.25"/>
<line x1="964.75" y1="1034.25" x2="1006" y2="1034.25"/>
<line x1="964.75" y1="958.25" x2="964.75" y2="1034.25"/>
<line x1="962.75" y1="881.5" x2="962.75" y2="996"/>
<line x1="962.75" y1="996" x2="964.75" y2="996"/>
<line x1="945.25" y1="939" x2="962.75" y2="939"/>
<line x1="945.25" y1="939" x2="945.25" y2="1167.75"/>
<line x1="945.25" y1="1167.75" x2="949" y2="1167.75"/>
<line x1="949" y1="1110.5" x2="1006" y2="1110.5"/>
<line x1="949" y1="1110.5" x2="949" y2="1224.75"/>
<line x1="949" y1="1224.75" x2="961.75" y2="1224.75"/>
<line x1="961.75" y1="1186.75" x2="1006" y2="1186.75"/>
<line x1="961.75" y1="1263" x2="1006" y2="1263"/>
<line x1="961.75" y1="1186.75" x2="961.75" y2="1263"/>
</g>
<text class="s" x="1609" y="885.55" font-size="12" fill="#111">ATF2*</text>
<text class="s" x="1609" y="961.8" font-size="12" fill="#111">ZBTB26*</text>
<text class="s" x="1609" y="1038.05" font-size="12" fill="#111">RAD21*</text>
<text class="s" x="1609" y="1114.3" font-size="12" fill="#111">GLIS2*</text>
<text class="s" x="1609" y="1190.55" font-size="12" fill="#111">DDX20*</text>
<text class="s" x="1609" y="1266.8" font-size="12" fill="#111">CEBPB*</text>
<linearGradient id="gE" x1="0" y1="0" x2="0" y2="1"><stop offset="0" stop-color="#d06f67"/><stop offset="0.5" stop-color="#ffffff"/><stop offset="1" stop-color="#5a96cb"/></linearGradient>
<rect x="1664.5" y="828" width="12" height="168" fill="url(#gE)"/>
<text class="s" x="1680.75" y="832.2" font-size="12" fill="#111">3</text>
<text class="s" x="1680.75" y="860.2" font-size="12" fill="#111">2</text>
<text class="s" x="1680.75" y="888.2" font-size="12" fill="#111">1</text>
<text class="s" x="1680.75" y="916.2" font-size="12" fill="#111">0</text>
<text class="s" x="1680.75" y="944.2" font-size="12" fill="#111">−1</text>
<text class="s" x="1680.75" y="972.2" font-size="12" fill="#111">−2</text>
<text class="s" x="1680.75" y="1000.2" font-size="12" fill="#111">−3</text>
<text class="s" x="1704.5" y="836.5" font-size="12" font-weight="bold" fill="#111">group</text>
<rect x="1704.5" y="840" width="17" height="16" fill="#5b96c9" stroke="#a0a0a0" stroke-width="0.7"/>
<rect x="1704.5" y="856" width="17" height="16" fill="#d0716a" stroke="#a0a0a0" stroke-width="0.7"/>
<text class="s" x="1725" y="852.3" font-size="12" fill="#111">Control</text>
<text class="s" x="1725" y="868.3" font-size="12" fill="#111">Diabetic</text>
</g>
<g id="pF">
<ellipse cx="278" cy="1660.5" rx="264" ry="261" fill="#e9edf5"/>
<ellipse cx="652" cy="1660.75" rx="214.5" ry="211.75" fill="#faefed"/>
<clipPath id="cpF"><ellipse cx="278" cy="1660.5" rx="264" ry="261"/></clipPath>
<ellipse cx="652" cy="1660.75" rx="214.5" ry="211.75" fill="#e8e2e7" clip-path="url(#cpF)"/>
<ellipse cx="278" cy="1660.5" rx="264" ry="261" fill="none" stroke="#4a7abf" stroke-width="1.3"/>
<ellipse cx="652" cy="1660.75" rx="214.5" ry="211.75" fill="none" stroke="#d0706a" stroke-width="1.3"/>
<text class="r" x="226.5" y="1627" font-size="24" text-anchor="middle" fill="#5580c0">T2D pathway</text>
<text class="r" x="651" y="1627" font-size="24" text-anchor="middle" fill="#d0706a">CHD pathway</text>
<text class="r" x="227.5" y="1668" font-size="23" text-anchor="middle" fill="#111">133</text>
<text class="r" x="489.5" y="1668" font-size="23" text-anchor="middle" fill="#111">14</text>
<text class="r" x="651" y="1668.5" font-size="23" text-anchor="middle" fill="#111">83</text>
</g>
<g id="pG">
<rect x="1310.5" y="1355.5" width="447" height="642" fill="#fff"/>
<line x1="1381.31" y1="1355.5" x2="1381.31" y2="1997.5" stroke="#f3f3f3" stroke-width="0.6"/>
<line x1="1482.94" y1="1355.5" x2="1482.94" y2="1997.5" stroke="#f3f3f3" stroke-width="0.6"/>
<line x1="1584.56" y1="1355.5" x2="1584.56" y2="1997.5" stroke="#f3f3f3" stroke-width="0.6"/>
<line x1="1686.19" y1="1355.5" x2="1686.19" y2="1997.5" stroke="#f3f3f3" stroke-width="0.6"/>
<line x1="1330.5" y1="1355.5" x2="1330.5" y2="1997.5" stroke="#e8e8e8" stroke-width="1"/>
<line x1="1432.12" y1="1355.5" x2="1432.12" y2="1997.5" stroke="#e8e8e8" stroke-width="1"/>
<line x1="1533.75" y1="1355.5" x2="1533.75" y2="1997.5" stroke="#e8e8e8" stroke-width="1"/>
<line x1="1635.38" y1="1355.5" x2="1635.38" y2="1997.5" stroke="#e8e8e8" stroke-width="1"/>
<line x1="1737" y1="1355.5" x2="1737" y2="1997.5" stroke="#e8e8e8" stroke-width="1"/>
<line x1="1310.5" y1="1383" x2="1757.5" y2="1383" stroke="#e8e8e8" stroke-width="1"/>
<line x1="1310.5" y1="1428.19" x2="1757.5" y2="1428.19" stroke="#e8e8e8" stroke-width="1"/>
<line x1="1310.5" y1="1473.38" x2="1757.5" y2="1473.38" stroke="#e8e8e8" stroke-width="1"/>
<line x1="1310.5" y1="1518.57" x2="1757.5" y2="1518.57" stroke="#e8e8e8" stroke-width="1"/>
<line x1="1310.5" y1="1563.76" x2="1757.5" y2="1563.76" stroke="#e8e8e8" stroke-width="1"/>
<line x1="1310.5" y1="1608.95" x2="1757.5" y2="1608.95" stroke="#e8e8e8" stroke-width="1"/>
<line x1="1310.5" y1="1654.14" x2="1757.5" y2="1654.14" stroke="#e8e8e8" stroke-width="1"/>
<line x1="1310.5" y1="1699.33" x2="1757.5" y2="1699.33" stroke="#e8e8e8" stroke-width="1"/>
<line x1="1310.5" y1="1744.52" x2="1757.5" y2="1744.52" stroke="#e8e8e8" stroke-width="1"/>
<line x1="1310.5" y1="1789.71" x2="1757.5" y2="1789.71" stroke="#e8e8e8" stroke-width="1"/>
<line x1="1310.5" y1="1834.9" x2="1757.5" y2="1834.9" stroke="#e8e8e8" stroke-width="1"/>
<line x1="1310.5" y1="1880.09" x2="1757.5" y2="1880.09" stroke="#e8e8e8" stroke-width="1"/>
<line x1="1310.5" y1="1925.28" x2="1757.5" y2="1925.28" stroke="#e8e8e8" stroke-width="1"/>
<line x1="1310.5" y1="1970.47" x2="1757.5" y2="1970.47" stroke="#e8e8e8" stroke-width="1"/>
<rect x="1330.5" y="1362.6" width="101.62" height="40.8" fill="#5a729c"/>
<rect x="1330.5" y="1407.79" width="101.62" height="40.8" fill="#5a729c"/>
<rect x="1330.5" y="1452.98" width="101.62" height="40.8" fill="#5a729c"/>
<rect x="1330.5" y="1498.17" width="101.62" height="40.8" fill="#5a729c"/>
<rect x="1330.5" y="1543.36" width="101.62" height="40.8" fill="#5a729c"/>
<rect x="1330.5" y="1588.55" width="101.62" height="40.8" fill="#5a729c"/>
<rect x="1330.5" y="1633.74" width="101.62" height="40.8" fill="#5a729c"/>
<rect x="1330.5" y="1678.93" width="203.25" height="40.8" fill="#5a729c"/>
<rect x="1330.5" y="1724.12" width="203.25" height="40.8" fill="#5a729c"/>
<rect x="1330.5" y="1769.31" width="203.25" height="40.8" fill="#5a729c"/>
<rect x="1330.5" y="1814.5" width="203.25" height="40.8" fill="#5a729c"/>
<rect x="1330.5" y="1859.69" width="304.88" height="40.8" fill="#5a729c"/>
<rect x="1330.5" y="1904.88" width="406.5" height="40.8" fill="#5a729c"/>
<rect x="1330.5" y="1950.07" width="406.5" height="40.8" fill="#5a729c"/>
<rect x="1310.5" y="1355.5" width="447" height="642" fill="none" stroke="#333" stroke-width="1"/>
<line x1="1306.5" y1="1383" x2="1310.5" y2="1383" stroke="#333" stroke-width="1"/>
<text class="s" x="1304" y="1387.8" font-size="13.95" text-anchor="end" fill="#4d4d4d">Transmission across Chemical Synapses</text>
<line x1="1306.5" y1="1428.19" x2="1310.5" y2="1428.19" stroke="#333" stroke-width="1"/>
<text class="s" x="1304" y="1432.99" font-size="13.95" text-anchor="end" fill="#4d4d4d">Signaling by WNT in cancer</text>
<line x1="1306.5" y1="1473.38" x2="1310.5" y2="1473.38" stroke="#333" stroke-width="1"/>
<text class="s" x="1304" y="1478.18" font-size="13.95" text-anchor="end" fill="#4d4d4d">Organelle biogenesis and maintenance</text>
<line x1="1306.5" y1="1518.57" x2="1310.5" y2="1518.57" stroke="#333" stroke-width="1"/>
<text class="s" x="1304" y="1523.37" font-size="13.95" text-anchor="end" fill="#4d4d4d">Neuronal System</text>
<line x1="1306.5" y1="1563.76" x2="1310.5" y2="1563.76" stroke="#333" stroke-width="1"/>
<text class="s" x="1304" y="1568.56" font-size="13.95" text-anchor="end" fill="#4d4d4d">FCERI mediated NF−kB activation</text>
<line x1="1306.5" y1="1608.95" x2="1310.5" y2="1608.95" stroke="#333" stroke-width="1"/>
<text class="s" x="1304" y="1613.75" font-size="13.95" text-anchor="end" fill="#4d4d4d">Degradation of beta−catenin by the destruction complex</text>
<line x1="1306.5" y1="1654.14" x2="1310.5" y2="1654.14" stroke="#333" stroke-width="1"/>
<text class="s" x="1304" y="1658.94" font-size="13.95" text-anchor="end" fill="#4d4d4d">Cell Cycle, Mitotic</text>
<line x1="1306.5" y1="1699.33" x2="1310.5" y2="1699.33" stroke="#333" stroke-width="1"/>
<text class="s" x="1304" y="1704.13" font-size="13.95" text-anchor="end" fill="#4d4d4d">Transcriptional regulation of white adipocyte differentiation</text>
<line x1="1306.5" y1="1744.52" x2="1310.5" y2="1744.52" stroke="#333" stroke-width="1"/>
<text class="s" x="1304" y="1749.32" font-size="13.95" text-anchor="end" fill="#4d4d4d">Interleukin−1 signaling</text>
<line x1="1306.5" y1="1789.71" x2="1310.5" y2="1789.71" stroke="#333" stroke-width="1"/>
<text class="s" x="1304" y="1794.51" font-size="13.95" text-anchor="end" fill="#4d4d4d">Downstream signaling events of B Cell Receptor (BCR)</text>
<line x1="1306.5" y1="1834.9" x2="1310.5" y2="1834.9" stroke="#333" stroke-width="1"/>
<text class="s" x="1304" y="1839.7" font-size="13.95" text-anchor="end" fill="#4d4d4d">Diseases of signal transduction</text>
<line x1="1306.5" y1="1880.09" x2="1310.5" y2="1880.09" stroke="#333" stroke-width="1"/>
<text class="s" x="1304" y="1884.89" font-size="13.95" text-anchor="end" fill="#4d4d4d">PPARA activates gene expression</text>
<line x1="1306.5" y1="1925.28" x2="1310.5" y2="1925.28" stroke="#333" stroke-width="1"/>
<text class="s" x="1304" y="1930.08" font-size="13.95" text-anchor="end" fill="#4d4d4d">VEGFA−VEGFR2 Pathway</text>
<line x1="1306.5" y1="1970.47" x2="1310.5" y2="1970.47" stroke="#333" stroke-width="1"/>
<text class="s" x="1304" y="1975.27" font-size="13.95" text-anchor="end" fill="#4d4d4d">Signaling by VEGF</text>
<line x1="1330.5" y1="1997.5" x2="1330.5" y2="2001" stroke="#333" stroke-width="1"/>
<text class="s" x="1330.5" y="2012.3" font-size="10.5" text-anchor="middle" fill="#4d4d4d">0</text>
<line x1="1432.12" y1="1997.5" x2="1432.12" y2="2001" stroke="#333" stroke-width="1"/>
<text class="s" x="1432.12" y="2012.3" font-size="10.5" text-anchor="middle" fill="#4d4d4d">1</text>
<line x1="1533.75" y1="1997.5" x2="1533.75" y2="2001" stroke="#333" stroke-width="1"/>
<text class="s" x="1533.75" y="2012.3" font-size="10.5" text-anchor="middle" fill="#4d4d4d">2</text>
<line x1="1635.38" y1="1997.5" x2="1635.38" y2="2001" stroke="#333" stroke-width="1"/>
<text class="s" x="1635.38" y="2012.3" font-size="10.5" text-anchor="middle" fill="#4d4d4d">3</text>
<line x1="1737" y1="1997.5" x2="1737" y2="2001" stroke="#333" stroke-width="1"/>
<text class="s" x="1737" y="2012.3" font-size="10.5" text-anchor="middle" fill="#4d4d4d">4</text>
<text class="s" x="1310.5" y="1345" font-size="15.1" fill="#111">Common Enriched Reactome Pathways</text>
<text class="s" x="1534" y="2027" font-size="12.9" text-anchor="middle" fill="#111">Number of Associated Genes</text>
<text class="s" font-size="13.3" fill="#111" text-anchor="middle" transform="translate(939,1676.5) rotate(-90)">Reactome Pathways</text>
</g>
<g class="r" fill="#111">
<text font-size="36.0" transform="translate(2.56,28.0) scale(0.94,1)">A</text>
<text font-size="34.2" transform="translate(855.72,26.6) scale(1.15,1)">B</text>
<text font-size="37.1" transform="translate(856.96,393.1) scale(1.106,1)">C</text>
<text font-size="36.5" transform="translate(2.78,839.7) scale(1.02,1)">D</text>
<text font-size="36.5" transform="translate(895.54,839.7) scale(1.147,1)">E</text>
<text font-size="36" transform="translate(28.33,1411) scale(1.083,1)">F</text>
<text font-size="37.1" transform="translate(896.90,1411.1) scale(1.01,1)">G</text>
</g>
</svg>
</body></html>
